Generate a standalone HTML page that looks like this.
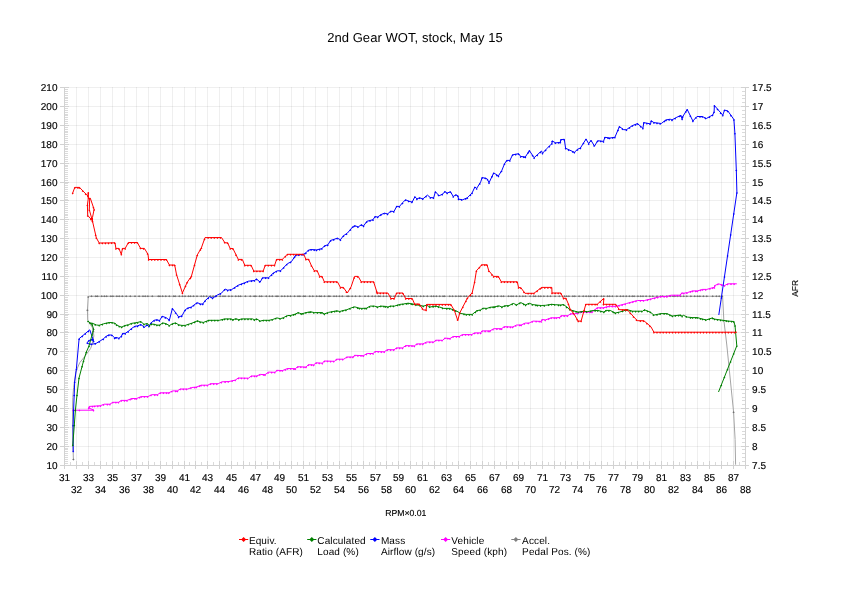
<!DOCTYPE html><html><head><meta charset="utf-8"><title>2nd Gear WOT, stock, May 15</title><style>
html,body{margin:0;padding:0;background:#fff;}
body{width:842px;height:595px;overflow:hidden;position:relative;font-family:"Liberation Sans",sans-serif;}
svg{position:absolute;left:0;top:0;will-change:transform;}
svg text{font-family:"Liberation Sans",sans-serif;fill:#000;text-rendering:geometricPrecision;}
svg text.t{stroke:#000;stroke-width:0.15px;}
</style></head><body>
<svg width="842" height="595" viewBox="0 0 842 595" shape-rendering="crispEdges">
<path d="M76.5 87V465M88.5 87V465M100.5 87V465M112.5 87V465M124.5 87V465M136.5 87V465M148.5 87V465M160.5 87V465M172.5 87V465M184.5 87V465M195.5 87V465M207.5 87V465M219.5 87V465M231.5 87V465M243.5 87V465M255.5 87V465M267.5 87V465M279.5 87V465M291.5 87V465M303.5 87V465M315.5 87V465M327.5 87V465M339.5 87V465M351.5 87V465M363.5 87V465M375.5 87V465M386.5 87V465M398.5 87V465M410.5 87V465M422.5 87V465M434.5 87V465M446.5 87V465M458.5 87V465M470.5 87V465M482.5 87V465M494.5 87V465M506.5 87V465M518.5 87V465M530.5 87V465M542.5 87V465M554.5 87V465M565.5 87V465M577.5 87V465M589.5 87V465M601.5 87V465M613.5 87V465M625.5 87V465M637.5 87V465M649.5 87V465M661.5 87V465M673.5 87V465M685.5 87V465M697.5 87V465M709.5 87V465M721.5 87V465M733.5 87V465" stroke="#000" stroke-opacity="0.064" stroke-width="1" fill="none"/>
<path d="M65 446.5H745M65 427.5H745M65 408.5H745M65 389.5H745M65 370.5H745M65 351.5H745M65 332.5H745M65 314.5H745M65 295.5H745M65 276.5H745M65 257.5H745M65 238.5H745M65 219.5H745M65 200.5H745M65 182.5H745M65 163.5H745M65 144.5H745M65 125.5H745M65 106.5H745M65 87.5H745" stroke="#000" stroke-opacity="0.064" stroke-width="1" fill="none"/>
<path d="M64.5 87V466M745.5 87V466M64 465.5H746M60 465.5H69M741 465.5H749M60 446.5H69M741 446.5H749M60 427.5H69M741 427.5H749M60 408.5H69M741 408.5H749M60 389.5H69M741 389.5H749M60 370.5H69M741 370.5H749M60 351.5H69M741 351.5H749M60 332.5H69M741 332.5H749M60 314.5H69M741 314.5H749M60 295.5H69M741 295.5H749M60 276.5H69M741 276.5H749M60 257.5H69M741 257.5H749M60 238.5H69M741 238.5H749M60 219.5H69M741 219.5H749M60 200.5H69M741 200.5H749M60 182.5H69M741 182.5H749M60 163.5H69M741 163.5H749M60 144.5H69M741 144.5H749M60 125.5H69M741 125.5H749M60 106.5H69M741 106.5H749M60 87.5H69M741 87.5H749" stroke="#d2d2d2" stroke-width="1" fill="none"/>
<path d="M65 89.5H68M65 91.5H68M65 93.5H68M65 95.5H68M65 97.5H68M65 98.5H68M65 100.5H68M65 102.5H68M65 104.5H68M65 108.5H68M65 110.5H68M65 112.5H68M65 114.5H68M65 115.5H68M65 117.5H68M65 119.5H68M65 121.5H68M65 123.5H68M65 127.5H68M65 129.5H68M65 131.5H68M65 132.5H68M65 134.5H68M65 136.5H68M65 138.5H68M65 140.5H68M65 142.5H68M65 146.5H68M65 148.5H68M65 149.5H68M65 151.5H68M65 153.5H68M65 155.5H68M65 157.5H68M65 159.5H68M65 161.5H68M65 165.5H68M65 166.5H68M65 168.5H68M65 170.5H68M65 172.5H68M65 174.5H68M65 176.5H68M65 178.5H68M65 180.5H68M65 183.5H68M65 185.5H68M65 187.5H68M65 189.5H68M65 191.5H68M65 193.5H68M65 195.5H68M65 197.5H68M65 199.5H68M65 202.5H68M65 204.5H68M65 206.5H68M65 208.5H68M65 210.5H68M65 212.5H68M65 214.5H68M65 215.5H68M65 217.5H68M65 221.5H68M65 223.5H68M65 225.5H68M65 227.5H68M65 229.5H68M65 231.5H68M65 232.5H68M65 234.5H68M65 236.5H68M65 240.5H68M65 242.5H68M65 244.5H68M65 246.5H68M65 248.5H68M65 249.5H68M65 251.5H68M65 253.5H68M65 255.5H68M65 259.5H68M65 261.5H68M65 263.5H68M65 265.5H68M65 266.5H68M65 268.5H68M65 270.5H68M65 272.5H68M65 274.5H68M65 278.5H68M65 280.5H68M65 282.5H68M65 283.5H68M65 285.5H68M65 287.5H68M65 289.5H68M65 291.5H68M65 293.5H68M65 297.5H68M65 299.5H68M65 300.5H68M65 302.5H68M65 304.5H68M65 306.5H68M65 308.5H68M65 310.5H68M65 312.5H68M65 315.5H68M65 317.5H68M65 319.5H68M65 321.5H68M65 323.5H68M65 325.5H68M65 327.5H68M65 329.5H68M65 331.5H68M65 334.5H68M65 336.5H68M65 338.5H68M65 340.5H68M65 342.5H68M65 344.5H68M65 346.5H68M65 348.5H68M65 349.5H68M65 353.5H68M65 355.5H68M65 357.5H68M65 359.5H68M65 361.5H68M65 363.5H68M65 365.5H68M65 366.5H68M65 368.5H68M65 372.5H68M65 374.5H68M65 376.5H68M65 378.5H68M65 380.5H68M65 382.5H68M65 383.5H68M65 385.5H68M65 387.5H68M65 391.5H68M65 393.5H68M65 395.5H68M65 397.5H68M65 399.5H68M65 400.5H68M65 402.5H68M65 404.5H68M65 406.5H68M65 410.5H68M65 412.5H68M65 414.5H68M65 416.5H68M65 417.5H68M65 419.5H68M65 421.5H68M65 423.5H68M65 425.5H68M65 429.5H68M65 431.5H68M65 432.5H68M65 434.5H68M65 436.5H68M65 438.5H68M65 440.5H68M65 442.5H68M65 444.5H68M65 448.5H68M65 449.5H68M65 451.5H68M65 453.5H68M65 455.5H68M65 457.5H68M65 459.5H68M65 461.5H68M65 463.5H68M742 461.5H745M742 457.5H745M742 453.5H745M742 449.5H745M742 442.5H745M742 438.5H745M742 434.5H745M742 431.5H745M742 423.5H745M742 419.5H745M742 416.5H745M742 412.5H745M742 404.5H745M742 400.5H745M742 397.5H745M742 393.5H745M742 385.5H745M742 382.5H745M742 378.5H745M742 374.5H745M742 366.5H745M742 363.5H745M742 359.5H745M742 355.5H745M742 348.5H745M742 344.5H745M742 340.5H745M742 336.5H745M742 329.5H745M742 325.5H745M742 321.5H745M742 317.5H745M742 310.5H745M742 306.5H745M742 302.5H745M742 299.5H745M742 291.5H745M742 287.5H745M742 283.5H745M742 280.5H745M742 272.5H745M742 268.5H745M742 265.5H745M742 261.5H745M742 253.5H745M742 249.5H745M742 246.5H745M742 242.5H745M742 234.5H745M742 231.5H745M742 227.5H745M742 223.5H745M742 215.5H745M742 212.5H745M742 208.5H745M742 204.5H745M742 197.5H745M742 193.5H745M742 189.5H745M742 185.5H745M742 178.5H745M742 174.5H745M742 170.5H745M742 166.5H745M742 159.5H745M742 155.5H745M742 151.5H745M742 148.5H745M742 140.5H745M742 136.5H745M742 132.5H745M742 129.5H745M742 121.5H745M742 117.5H745M742 114.5H745M742 110.5H745M742 102.5H745M742 98.5H745M742 95.5H745M742 91.5H745" stroke="#dadada" stroke-width="1" fill="none"/>
<path d="M64.5 461V469M76.5 461V469M88.5 461V469M100.5 461V469M112.5 461V469M124.5 461V469M136.5 461V469M148.5 461V469M160.5 461V469M172.5 461V469M184.5 461V469M195.5 461V469M207.5 461V469M219.5 461V469M231.5 461V469M243.5 461V469M255.5 461V469M267.5 461V469M279.5 461V469M291.5 461V469M303.5 461V469M315.5 461V469M327.5 461V469M339.5 461V469M351.5 461V469M363.5 461V469M375.5 461V469M386.5 461V469M398.5 461V469M410.5 461V469M422.5 461V469M434.5 461V469M446.5 461V469M458.5 461V469M470.5 461V469M482.5 461V469M494.5 461V469M506.5 461V469M518.5 461V469M530.5 461V469M542.5 461V469M554.5 461V469M565.5 461V469M577.5 461V469M589.5 461V469M601.5 461V469M613.5 461V469M625.5 461V469M637.5 461V469M649.5 461V469M661.5 461V469M673.5 461V469M685.5 461V469M697.5 461V469M709.5 461V469M721.5 461V469M733.5 461V469M745.5 461V469" stroke="#d2d2d2" stroke-width="1" fill="none"/>
<path d="M70.5 462V465M82.5 462V465M94.5 462V465M106.5 462V465M118.5 462V465M130.5 462V465M142.5 462V465M154.5 462V465M166.5 462V465M178.5 462V465M189.5 462V465M201.5 462V465M213.5 462V465M225.5 462V465M237.5 462V465M249.5 462V465M261.5 462V465M273.5 462V465M285.5 462V465M297.5 462V465M309.5 462V465M321.5 462V465M333.5 462V465M345.5 462V465M357.5 462V465M369.5 462V465M380.5 462V465M392.5 462V465M404.5 462V465M416.5 462V465M428.5 462V465M440.5 462V465M452.5 462V465M464.5 462V465M476.5 462V465M488.5 462V465M500.5 462V465M512.5 462V465M524.5 462V465M536.5 462V465M548.5 462V465M560.5 462V465M571.5 462V465M583.5 462V465M595.5 462V465M607.5 462V465M619.5 462V465M631.5 462V465M643.5 462V465M655.5 462V465M667.5 462V465M679.5 462V465M691.5 462V465M703.5 462V465M715.5 462V465M727.5 462V465M739.5 462V465" stroke="#dadada" stroke-width="1" fill="none"/>
</svg>
<svg width="842" height="595" viewBox="0 0 842 595">
<polyline points="73.4,459.4 72.8,440.4 72.5,410.2 72.8,397.4 73.6,387.6 75.8,372.0 79.7,362.7 84.6,356.7 90.6,348.5 92.2,344.1 93.9,335.9 93.3,331.6 92.2,327.2 90.2,324.3 87.7,320.2 87.4,310.2 88.2,297.1 89.2,296.3 722.6,296.3 723.8,319.7 726.8,345.0 733.6,412.2 735.1,439.5 735.6,464.7" fill="none" stroke="#a4a4a4" stroke-width="1.0" stroke-linejoin="round"/>
<path d="M88.2 296.1l1.2 1.0l-1.2 1.0l-1.2 -1.0zM87.4 309.2l1.2 1.0l-1.2 1.0l-1.2 -1.0zM93.3 330.6l1.2 1.0l-1.2 1.0l-1.2 -1.0zM73.4 458.4l1.2 1.0l-1.2 1.0l-1.2 -1.0zM733.6 411.2l1.2 1.0l-1.2 1.0l-1.2 -1.0zM91.5 295.3l1.2 1.0l-1.2 1.0l-1.2 -1.0zM95.8 295.3l1.2 1.0l-1.2 1.0l-1.2 -1.0zM97.5 295.3l1.2 1.0l-1.2 1.0l-1.2 -1.0zM101.7 295.3l1.2 1.0l-1.2 1.0l-1.2 -1.0zM104.4 295.3l1.2 1.0l-1.2 1.0l-1.2 -1.0zM106.7 295.3l1.2 1.0l-1.2 1.0l-1.2 -1.0zM110.9 295.3l1.2 1.0l-1.2 1.0l-1.2 -1.0zM112.9 295.3l1.2 1.0l-1.2 1.0l-1.2 -1.0zM116.9 295.3l1.2 1.0l-1.2 1.0l-1.2 -1.0zM119.2 295.3l1.2 1.0l-1.2 1.0l-1.2 -1.0zM122.3 295.3l1.2 1.0l-1.2 1.0l-1.2 -1.0zM126.2 295.3l1.2 1.0l-1.2 1.0l-1.2 -1.0zM130.3 295.3l1.2 1.0l-1.2 1.0l-1.2 -1.0zM135.0 295.3l1.2 1.0l-1.2 1.0l-1.2 -1.0zM139.1 295.3l1.2 1.0l-1.2 1.0l-1.2 -1.0zM143.0 295.3l1.2 1.0l-1.2 1.0l-1.2 -1.0zM145.2 295.3l1.2 1.0l-1.2 1.0l-1.2 -1.0zM147.9 295.3l1.2 1.0l-1.2 1.0l-1.2 -1.0zM152.3 295.3l1.2 1.0l-1.2 1.0l-1.2 -1.0zM158.3 295.3l1.2 1.0l-1.2 1.0l-1.2 -1.0zM160.0 295.3l1.2 1.0l-1.2 1.0l-1.2 -1.0zM162.7 295.3l1.2 1.0l-1.2 1.0l-1.2 -1.0zM165.8 295.3l1.2 1.0l-1.2 1.0l-1.2 -1.0zM169.3 295.3l1.2 1.0l-1.2 1.0l-1.2 -1.0zM173.7 295.3l1.2 1.0l-1.2 1.0l-1.2 -1.0zM175.2 295.3l1.2 1.0l-1.2 1.0l-1.2 -1.0zM179.3 295.3l1.2 1.0l-1.2 1.0l-1.2 -1.0zM182.5 295.3l1.2 1.0l-1.2 1.0l-1.2 -1.0zM185.0 295.3l1.2 1.0l-1.2 1.0l-1.2 -1.0zM188.5 295.3l1.2 1.0l-1.2 1.0l-1.2 -1.0zM190.5 295.3l1.2 1.0l-1.2 1.0l-1.2 -1.0zM193.5 295.3l1.2 1.0l-1.2 1.0l-1.2 -1.0zM197.0 295.3l1.2 1.0l-1.2 1.0l-1.2 -1.0zM201.2 295.3l1.2 1.0l-1.2 1.0l-1.2 -1.0zM203.7 295.3l1.2 1.0l-1.2 1.0l-1.2 -1.0zM206.6 295.3l1.2 1.0l-1.2 1.0l-1.2 -1.0zM210.3 295.3l1.2 1.0l-1.2 1.0l-1.2 -1.0zM213.1 295.3l1.2 1.0l-1.2 1.0l-1.2 -1.0zM215.8 295.3l1.2 1.0l-1.2 1.0l-1.2 -1.0zM220.1 295.3l1.2 1.0l-1.2 1.0l-1.2 -1.0zM223.0 295.3l1.2 1.0l-1.2 1.0l-1.2 -1.0zM225.0 295.3l1.2 1.0l-1.2 1.0l-1.2 -1.0zM228.9 295.3l1.2 1.0l-1.2 1.0l-1.2 -1.0zM231.9 295.3l1.2 1.0l-1.2 1.0l-1.2 -1.0zM235.8 295.3l1.2 1.0l-1.2 1.0l-1.2 -1.0zM238.6 295.3l1.2 1.0l-1.2 1.0l-1.2 -1.0zM240.6 295.3l1.2 1.0l-1.2 1.0l-1.2 -1.0zM245.4 295.3l1.2 1.0l-1.2 1.0l-1.2 -1.0zM250.2 295.3l1.2 1.0l-1.2 1.0l-1.2 -1.0zM254.1 295.3l1.2 1.0l-1.2 1.0l-1.2 -1.0zM255.8 295.3l1.2 1.0l-1.2 1.0l-1.2 -1.0zM259.7 295.3l1.2 1.0l-1.2 1.0l-1.2 -1.0zM261.7 295.3l1.2 1.0l-1.2 1.0l-1.2 -1.0zM266.3 295.3l1.2 1.0l-1.2 1.0l-1.2 -1.0zM269.6 295.3l1.2 1.0l-1.2 1.0l-1.2 -1.0zM272.3 295.3l1.2 1.0l-1.2 1.0l-1.2 -1.0zM276.1 295.3l1.2 1.0l-1.2 1.0l-1.2 -1.0zM277.9 295.3l1.2 1.0l-1.2 1.0l-1.2 -1.0zM281.9 295.3l1.2 1.0l-1.2 1.0l-1.2 -1.0zM284.7 295.3l1.2 1.0l-1.2 1.0l-1.2 -1.0zM287.8 295.3l1.2 1.0l-1.2 1.0l-1.2 -1.0zM290.6 295.3l1.2 1.0l-1.2 1.0l-1.2 -1.0zM294.6 295.3l1.2 1.0l-1.2 1.0l-1.2 -1.0zM298.0 295.3l1.2 1.0l-1.2 1.0l-1.2 -1.0zM299.9 295.3l1.2 1.0l-1.2 1.0l-1.2 -1.0zM303.5 295.3l1.2 1.0l-1.2 1.0l-1.2 -1.0zM305.1 295.3l1.2 1.0l-1.2 1.0l-1.2 -1.0zM309.8 295.3l1.2 1.0l-1.2 1.0l-1.2 -1.0zM312.8 295.3l1.2 1.0l-1.2 1.0l-1.2 -1.0zM316.7 295.3l1.2 1.0l-1.2 1.0l-1.2 -1.0zM319.4 295.3l1.2 1.0l-1.2 1.0l-1.2 -1.0zM321.2 295.3l1.2 1.0l-1.2 1.0l-1.2 -1.0zM324.5 295.3l1.2 1.0l-1.2 1.0l-1.2 -1.0zM328.3 295.3l1.2 1.0l-1.2 1.0l-1.2 -1.0zM329.9 295.3l1.2 1.0l-1.2 1.0l-1.2 -1.0zM334.0 295.3l1.2 1.0l-1.2 1.0l-1.2 -1.0zM336.4 295.3l1.2 1.0l-1.2 1.0l-1.2 -1.0zM339.4 295.3l1.2 1.0l-1.2 1.0l-1.2 -1.0zM342.3 295.3l1.2 1.0l-1.2 1.0l-1.2 -1.0zM347.1 295.3l1.2 1.0l-1.2 1.0l-1.2 -1.0zM348.7 295.3l1.2 1.0l-1.2 1.0l-1.2 -1.0zM352.1 295.3l1.2 1.0l-1.2 1.0l-1.2 -1.0zM355.5 295.3l1.2 1.0l-1.2 1.0l-1.2 -1.0zM359.8 295.3l1.2 1.0l-1.2 1.0l-1.2 -1.0zM365.0 295.3l1.2 1.0l-1.2 1.0l-1.2 -1.0zM368.3 295.3l1.2 1.0l-1.2 1.0l-1.2 -1.0zM372.2 295.3l1.2 1.0l-1.2 1.0l-1.2 -1.0zM375.2 295.3l1.2 1.0l-1.2 1.0l-1.2 -1.0zM378.4 295.3l1.2 1.0l-1.2 1.0l-1.2 -1.0zM380.1 295.3l1.2 1.0l-1.2 1.0l-1.2 -1.0zM383.5 295.3l1.2 1.0l-1.2 1.0l-1.2 -1.0zM386.5 295.3l1.2 1.0l-1.2 1.0l-1.2 -1.0zM390.8 295.3l1.2 1.0l-1.2 1.0l-1.2 -1.0zM394.1 295.3l1.2 1.0l-1.2 1.0l-1.2 -1.0zM398.4 295.3l1.2 1.0l-1.2 1.0l-1.2 -1.0zM401.7 295.3l1.2 1.0l-1.2 1.0l-1.2 -1.0zM404.8 295.3l1.2 1.0l-1.2 1.0l-1.2 -1.0zM408.5 295.3l1.2 1.0l-1.2 1.0l-1.2 -1.0zM411.8 295.3l1.2 1.0l-1.2 1.0l-1.2 -1.0zM414.1 295.3l1.2 1.0l-1.2 1.0l-1.2 -1.0zM416.6 295.3l1.2 1.0l-1.2 1.0l-1.2 -1.0zM420.7 295.3l1.2 1.0l-1.2 1.0l-1.2 -1.0zM423.7 295.3l1.2 1.0l-1.2 1.0l-1.2 -1.0zM427.3 295.3l1.2 1.0l-1.2 1.0l-1.2 -1.0zM431.3 295.3l1.2 1.0l-1.2 1.0l-1.2 -1.0zM433.8 295.3l1.2 1.0l-1.2 1.0l-1.2 -1.0zM436.4 295.3l1.2 1.0l-1.2 1.0l-1.2 -1.0zM439.8 295.3l1.2 1.0l-1.2 1.0l-1.2 -1.0zM443.0 295.3l1.2 1.0l-1.2 1.0l-1.2 -1.0zM444.6 295.3l1.2 1.0l-1.2 1.0l-1.2 -1.0zM449.8 295.3l1.2 1.0l-1.2 1.0l-1.2 -1.0zM452.6 295.3l1.2 1.0l-1.2 1.0l-1.2 -1.0zM455.9 295.3l1.2 1.0l-1.2 1.0l-1.2 -1.0zM458.8 295.3l1.2 1.0l-1.2 1.0l-1.2 -1.0zM460.9 295.3l1.2 1.0l-1.2 1.0l-1.2 -1.0zM464.1 295.3l1.2 1.0l-1.2 1.0l-1.2 -1.0zM466.4 295.3l1.2 1.0l-1.2 1.0l-1.2 -1.0zM470.8 295.3l1.2 1.0l-1.2 1.0l-1.2 -1.0zM472.5 295.3l1.2 1.0l-1.2 1.0l-1.2 -1.0zM475.7 295.3l1.2 1.0l-1.2 1.0l-1.2 -1.0zM479.1 295.3l1.2 1.0l-1.2 1.0l-1.2 -1.0zM482.1 295.3l1.2 1.0l-1.2 1.0l-1.2 -1.0zM485.6 295.3l1.2 1.0l-1.2 1.0l-1.2 -1.0zM488.0 295.3l1.2 1.0l-1.2 1.0l-1.2 -1.0zM491.0 295.3l1.2 1.0l-1.2 1.0l-1.2 -1.0zM494.5 295.3l1.2 1.0l-1.2 1.0l-1.2 -1.0zM497.4 295.3l1.2 1.0l-1.2 1.0l-1.2 -1.0zM501.2 295.3l1.2 1.0l-1.2 1.0l-1.2 -1.0zM503.5 295.3l1.2 1.0l-1.2 1.0l-1.2 -1.0zM508.6 295.3l1.2 1.0l-1.2 1.0l-1.2 -1.0zM511.1 295.3l1.2 1.0l-1.2 1.0l-1.2 -1.0zM513.1 295.3l1.2 1.0l-1.2 1.0l-1.2 -1.0zM516.4 295.3l1.2 1.0l-1.2 1.0l-1.2 -1.0zM519.7 295.3l1.2 1.0l-1.2 1.0l-1.2 -1.0zM522.9 295.3l1.2 1.0l-1.2 1.0l-1.2 -1.0zM525.4 295.3l1.2 1.0l-1.2 1.0l-1.2 -1.0zM530.2 295.3l1.2 1.0l-1.2 1.0l-1.2 -1.0zM533.7 295.3l1.2 1.0l-1.2 1.0l-1.2 -1.0zM535.5 295.3l1.2 1.0l-1.2 1.0l-1.2 -1.0zM538.7 295.3l1.2 1.0l-1.2 1.0l-1.2 -1.0zM540.8 295.3l1.2 1.0l-1.2 1.0l-1.2 -1.0zM543.9 295.3l1.2 1.0l-1.2 1.0l-1.2 -1.0zM547.6 295.3l1.2 1.0l-1.2 1.0l-1.2 -1.0zM550.5 295.3l1.2 1.0l-1.2 1.0l-1.2 -1.0zM555.0 295.3l1.2 1.0l-1.2 1.0l-1.2 -1.0zM559.3 295.3l1.2 1.0l-1.2 1.0l-1.2 -1.0zM564.6 295.3l1.2 1.0l-1.2 1.0l-1.2 -1.0zM566.7 295.3l1.2 1.0l-1.2 1.0l-1.2 -1.0zM568.9 295.3l1.2 1.0l-1.2 1.0l-1.2 -1.0zM572.9 295.3l1.2 1.0l-1.2 1.0l-1.2 -1.0zM574.8 295.3l1.2 1.0l-1.2 1.0l-1.2 -1.0zM579.1 295.3l1.2 1.0l-1.2 1.0l-1.2 -1.0zM583.2 295.3l1.2 1.0l-1.2 1.0l-1.2 -1.0zM586.1 295.3l1.2 1.0l-1.2 1.0l-1.2 -1.0zM588.8 295.3l1.2 1.0l-1.2 1.0l-1.2 -1.0zM590.8 295.3l1.2 1.0l-1.2 1.0l-1.2 -1.0zM594.2 295.3l1.2 1.0l-1.2 1.0l-1.2 -1.0zM596.8 295.3l1.2 1.0l-1.2 1.0l-1.2 -1.0zM601.4 295.3l1.2 1.0l-1.2 1.0l-1.2 -1.0zM603.9 295.3l1.2 1.0l-1.2 1.0l-1.2 -1.0zM607.6 295.3l1.2 1.0l-1.2 1.0l-1.2 -1.0zM609.6 295.3l1.2 1.0l-1.2 1.0l-1.2 -1.0zM612.4 295.3l1.2 1.0l-1.2 1.0l-1.2 -1.0zM616.9 295.3l1.2 1.0l-1.2 1.0l-1.2 -1.0zM620.5 295.3l1.2 1.0l-1.2 1.0l-1.2 -1.0zM623.2 295.3l1.2 1.0l-1.2 1.0l-1.2 -1.0zM626.2 295.3l1.2 1.0l-1.2 1.0l-1.2 -1.0zM629.4 295.3l1.2 1.0l-1.2 1.0l-1.2 -1.0zM632.3 295.3l1.2 1.0l-1.2 1.0l-1.2 -1.0zM634.1 295.3l1.2 1.0l-1.2 1.0l-1.2 -1.0zM637.9 295.3l1.2 1.0l-1.2 1.0l-1.2 -1.0zM640.7 295.3l1.2 1.0l-1.2 1.0l-1.2 -1.0zM643.0 295.3l1.2 1.0l-1.2 1.0l-1.2 -1.0zM646.1 295.3l1.2 1.0l-1.2 1.0l-1.2 -1.0zM649.8 295.3l1.2 1.0l-1.2 1.0l-1.2 -1.0zM652.8 295.3l1.2 1.0l-1.2 1.0l-1.2 -1.0zM657.0 295.3l1.2 1.0l-1.2 1.0l-1.2 -1.0zM660.7 295.3l1.2 1.0l-1.2 1.0l-1.2 -1.0zM662.6 295.3l1.2 1.0l-1.2 1.0l-1.2 -1.0zM666.8 295.3l1.2 1.0l-1.2 1.0l-1.2 -1.0zM670.1 295.3l1.2 1.0l-1.2 1.0l-1.2 -1.0zM673.1 295.3l1.2 1.0l-1.2 1.0l-1.2 -1.0zM674.8 295.3l1.2 1.0l-1.2 1.0l-1.2 -1.0zM677.5 295.3l1.2 1.0l-1.2 1.0l-1.2 -1.0zM680.6 295.3l1.2 1.0l-1.2 1.0l-1.2 -1.0zM683.7 295.3l1.2 1.0l-1.2 1.0l-1.2 -1.0zM686.8 295.3l1.2 1.0l-1.2 1.0l-1.2 -1.0zM690.9 295.3l1.2 1.0l-1.2 1.0l-1.2 -1.0zM694.7 295.3l1.2 1.0l-1.2 1.0l-1.2 -1.0zM697.6 295.3l1.2 1.0l-1.2 1.0l-1.2 -1.0zM699.9 295.3l1.2 1.0l-1.2 1.0l-1.2 -1.0zM703.4 295.3l1.2 1.0l-1.2 1.0l-1.2 -1.0zM706.8 295.3l1.2 1.0l-1.2 1.0l-1.2 -1.0zM712.7 295.3l1.2 1.0l-1.2 1.0l-1.2 -1.0zM716.4 295.3l1.2 1.0l-1.2 1.0l-1.2 -1.0zM719.2 295.3l1.2 1.0l-1.2 1.0l-1.2 -1.0zM722.2 295.3l1.2 1.0l-1.2 1.0l-1.2 -1.0z" fill="#707070"/>
<polyline points="72.6,410.2 94.0,410.2 88.7,407.9 89.4,406.4 94.7,406.1 100.4,405.7 104.2,404.2 109.9,404.2 112.8,402.3 118.5,402.3 121.3,400.4 127.0,400.4 131.8,398.5 136.5,398.5 141.3,396.6 147.9,396.6 151.7,394.7 157.4,394.7 160.3,392.8 168.8,392.8 172.6,390.9 177.4,390.9 180.2,389.0 187.8,389.0 191.6,387.5 196.4,387.1 201.1,385.2 207.8,385.2 210.6,383.7 218.2,383.7 222.0,381.8 229.0,381.5 235.3,380.1 238.3,378.0 248.4,378.2 251.4,376.0 256.7,376.0 260.3,374.4 265.0,374.7 268.6,372.1 275.1,372.3 276.9,370.3 282.3,370.6 287.6,368.5 295.3,368.7 297.7,366.7 306.0,367.1 308.4,364.7 313.7,364.9 316.1,362.8 322.4,363.2 324.4,361.0 334.6,361.3 336.5,359.2 343.7,359.2 347.0,357.0 352.9,357.0 354.8,355.3 363.3,355.7 367.2,353.5 373.1,353.5 375.1,351.5 384.2,351.8 387.5,349.6 394.0,349.8 396.6,347.9 402.5,347.9 405.8,345.6 414.3,345.9 416.9,343.9 422.8,343.9 426.7,342.0 433.9,342.0 435.8,340.2 442.8,340.3 444.8,338.1 450.0,338.5 453.3,336.5 459.2,336.5 462.4,334.6 471.6,334.6 474.8,332.9 480.7,332.9 482.0,330.9 489.9,330.9 493.8,328.7 501.6,328.7 504.2,326.7 512.7,327.0 516.6,325.0 521.2,325.0 525.1,323.1 529.1,323.1 533.0,321.1 541.2,321.4 542.1,319.5 545.5,319.9 551.2,317.8 556.4,317.8 560.2,317.3 561.1,315.7 567.8,315.7 570.6,313.8 574.4,313.8 578.7,313.1 580.6,312.1 592.0,312.1 597.2,307.8 603.4,307.8 609.1,306.2 615.9,306.3 626.6,303.5 637.3,300.5 644.4,300.5 651.5,298.8 661.0,296.4 666.9,296.4 671.1,295.2 680.0,295.2 681.8,292.9 683.8,293.2 687.4,292.6 692.6,290.9 697.4,290.9 702.6,289.4 706.8,289.4 712.6,287.7 714.4,287.4 714.8,285.6 718.5,283.8 724.4,285.6 727.9,283.8 736.8,283.8" fill="none" stroke="#ff00ff" stroke-width="1.0" stroke-linejoin="round"/>
<path d="M73.2 409.7l1.0 1.0l-1.0 1.0l-1.0 -1.0zM79.4 409.5l1.0 1.0l-1.0 1.0l-1.0 -1.0zM93.5 409.8l1.0 1.0l-1.0 1.0l-1.0 -1.0zM88.7 407.4l1.0 1.0l-1.0 1.0l-1.0 -1.0zM89.4 405.9l1.0 1.0l-1.0 1.0l-1.0 -1.0zM92.5 405.7l1.0 1.0l-1.0 1.0l-1.0 -1.0zM94.7 405.6l1.0 1.0l-1.0 1.0l-1.0 -1.0zM97.8 405.4l1.0 1.0l-1.0 1.0l-1.0 -1.0zM100.4 405.2l1.0 1.0l-1.0 1.0l-1.0 -1.0zM103.5 404.0l1.0 1.0l-1.0 1.0l-1.0 -1.0zM107.3 403.7l1.0 1.0l-1.0 1.0l-1.0 -1.0zM109.9 403.7l1.0 1.0l-1.0 1.0l-1.0 -1.0zM112.8 401.8l1.0 1.0l-1.0 1.0l-1.0 -1.0zM115.9 401.8l1.0 1.0l-1.0 1.0l-1.0 -1.0zM118.5 401.8l1.0 1.0l-1.0 1.0l-1.0 -1.0zM121.3 399.9l1.0 1.0l-1.0 1.0l-1.0 -1.0zM124.4 399.9l1.0 1.0l-1.0 1.0l-1.0 -1.0zM127.0 399.9l1.0 1.0l-1.0 1.0l-1.0 -1.0zM130.1 398.7l1.0 1.0l-1.0 1.0l-1.0 -1.0zM131.8 398.0l1.0 1.0l-1.0 1.0l-1.0 -1.0zM134.9 398.0l1.0 1.0l-1.0 1.0l-1.0 -1.0zM136.5 398.0l1.0 1.0l-1.0 1.0l-1.0 -1.0zM139.6 396.8l1.0 1.0l-1.0 1.0l-1.0 -1.0zM141.3 396.1l1.0 1.0l-1.0 1.0l-1.0 -1.0zM144.4 396.1l1.0 1.0l-1.0 1.0l-1.0 -1.0zM147.5 396.1l1.0 1.0l-1.0 1.0l-1.0 -1.0zM151.0 394.6l1.0 1.0l-1.0 1.0l-1.0 -1.0zM154.8 394.2l1.0 1.0l-1.0 1.0l-1.0 -1.0zM157.4 394.2l1.0 1.0l-1.0 1.0l-1.0 -1.0zM160.3 392.3l1.0 1.0l-1.0 1.0l-1.0 -1.0zM163.4 392.3l1.0 1.0l-1.0 1.0l-1.0 -1.0zM166.5 392.3l1.0 1.0l-1.0 1.0l-1.0 -1.0zM168.8 392.3l1.0 1.0l-1.0 1.0l-1.0 -1.0zM171.9 390.8l1.0 1.0l-1.0 1.0l-1.0 -1.0zM175.7 390.4l1.0 1.0l-1.0 1.0l-1.0 -1.0zM177.4 390.4l1.0 1.0l-1.0 1.0l-1.0 -1.0zM180.2 388.5l1.0 1.0l-1.0 1.0l-1.0 -1.0zM183.3 388.5l1.0 1.0l-1.0 1.0l-1.0 -1.0zM186.4 388.5l1.0 1.0l-1.0 1.0l-1.0 -1.0zM190.9 387.3l1.0 1.0l-1.0 1.0l-1.0 -1.0zM194.7 386.7l1.0 1.0l-1.0 1.0l-1.0 -1.0zM196.4 386.6l1.0 1.0l-1.0 1.0l-1.0 -1.0zM199.5 385.3l1.0 1.0l-1.0 1.0l-1.0 -1.0zM201.1 384.7l1.0 1.0l-1.0 1.0l-1.0 -1.0zM204.2 384.7l1.0 1.0l-1.0 1.0l-1.0 -1.0zM207.3 384.7l1.0 1.0l-1.0 1.0l-1.0 -1.0zM210.6 383.2l1.0 1.0l-1.0 1.0l-1.0 -1.0zM213.7 383.2l1.0 1.0l-1.0 1.0l-1.0 -1.0zM216.8 383.2l1.0 1.0l-1.0 1.0l-1.0 -1.0zM221.3 381.7l1.0 1.0l-1.0 1.0l-1.0 -1.0zM225.1 381.2l1.0 1.0l-1.0 1.0l-1.0 -1.0zM228.2 381.0l1.0 1.0l-1.0 1.0l-1.0 -1.0zM232.1 380.3l1.0 1.0l-1.0 1.0l-1.0 -1.0zM235.2 379.6l1.0 1.0l-1.0 1.0l-1.0 -1.0zM238.3 377.5l1.0 1.0l-1.0 1.0l-1.0 -1.0zM241.4 377.6l1.0 1.0l-1.0 1.0l-1.0 -1.0zM244.5 377.6l1.0 1.0l-1.0 1.0l-1.0 -1.0zM247.6 377.7l1.0 1.0l-1.0 1.0l-1.0 -1.0zM251.4 375.5l1.0 1.0l-1.0 1.0l-1.0 -1.0zM254.5 375.5l1.0 1.0l-1.0 1.0l-1.0 -1.0zM256.7 375.5l1.0 1.0l-1.0 1.0l-1.0 -1.0zM259.8 374.1l1.0 1.0l-1.0 1.0l-1.0 -1.0zM263.4 374.1l1.0 1.0l-1.0 1.0l-1.0 -1.0zM265.0 374.2l1.0 1.0l-1.0 1.0l-1.0 -1.0zM268.1 372.0l1.0 1.0l-1.0 1.0l-1.0 -1.0zM271.7 371.7l1.0 1.0l-1.0 1.0l-1.0 -1.0zM274.8 371.8l1.0 1.0l-1.0 1.0l-1.0 -1.0zM276.9 369.8l1.0 1.0l-1.0 1.0l-1.0 -1.0zM280.0 370.0l1.0 1.0l-1.0 1.0l-1.0 -1.0zM282.3 370.1l1.0 1.0l-1.0 1.0l-1.0 -1.0zM285.4 368.9l1.0 1.0l-1.0 1.0l-1.0 -1.0zM287.6 368.0l1.0 1.0l-1.0 1.0l-1.0 -1.0zM290.7 368.1l1.0 1.0l-1.0 1.0l-1.0 -1.0zM293.8 368.2l1.0 1.0l-1.0 1.0l-1.0 -1.0zM295.3 368.2l1.0 1.0l-1.0 1.0l-1.0 -1.0zM297.7 366.2l1.0 1.0l-1.0 1.0l-1.0 -1.0zM300.8 366.3l1.0 1.0l-1.0 1.0l-1.0 -1.0zM303.9 366.5l1.0 1.0l-1.0 1.0l-1.0 -1.0zM306.0 366.6l1.0 1.0l-1.0 1.0l-1.0 -1.0zM308.4 364.2l1.0 1.0l-1.0 1.0l-1.0 -1.0zM311.5 364.3l1.0 1.0l-1.0 1.0l-1.0 -1.0zM313.7 364.4l1.0 1.0l-1.0 1.0l-1.0 -1.0zM316.1 362.3l1.0 1.0l-1.0 1.0l-1.0 -1.0zM319.2 362.5l1.0 1.0l-1.0 1.0l-1.0 -1.0zM322.3 362.7l1.0 1.0l-1.0 1.0l-1.0 -1.0zM324.4 360.5l1.0 1.0l-1.0 1.0l-1.0 -1.0zM327.5 360.6l1.0 1.0l-1.0 1.0l-1.0 -1.0zM330.6 360.7l1.0 1.0l-1.0 1.0l-1.0 -1.0zM333.7 360.8l1.0 1.0l-1.0 1.0l-1.0 -1.0zM336.5 358.7l1.0 1.0l-1.0 1.0l-1.0 -1.0zM339.6 358.7l1.0 1.0l-1.0 1.0l-1.0 -1.0zM342.7 358.7l1.0 1.0l-1.0 1.0l-1.0 -1.0zM346.8 356.6l1.0 1.0l-1.0 1.0l-1.0 -1.0zM350.1 356.5l1.0 1.0l-1.0 1.0l-1.0 -1.0zM352.9 356.5l1.0 1.0l-1.0 1.0l-1.0 -1.0zM354.8 354.8l1.0 1.0l-1.0 1.0l-1.0 -1.0zM357.9 354.9l1.0 1.0l-1.0 1.0l-1.0 -1.0zM361.0 355.1l1.0 1.0l-1.0 1.0l-1.0 -1.0zM363.3 355.2l1.0 1.0l-1.0 1.0l-1.0 -1.0zM366.4 353.5l1.0 1.0l-1.0 1.0l-1.0 -1.0zM370.3 353.0l1.0 1.0l-1.0 1.0l-1.0 -1.0zM373.1 353.0l1.0 1.0l-1.0 1.0l-1.0 -1.0zM375.1 351.0l1.0 1.0l-1.0 1.0l-1.0 -1.0zM378.2 351.1l1.0 1.0l-1.0 1.0l-1.0 -1.0zM381.3 351.2l1.0 1.0l-1.0 1.0l-1.0 -1.0zM384.2 351.3l1.0 1.0l-1.0 1.0l-1.0 -1.0zM387.3 349.2l1.0 1.0l-1.0 1.0l-1.0 -1.0zM390.6 349.2l1.0 1.0l-1.0 1.0l-1.0 -1.0zM393.7 349.3l1.0 1.0l-1.0 1.0l-1.0 -1.0zM396.6 347.4l1.0 1.0l-1.0 1.0l-1.0 -1.0zM399.7 347.4l1.0 1.0l-1.0 1.0l-1.0 -1.0zM402.5 347.4l1.0 1.0l-1.0 1.0l-1.0 -1.0zM405.6 345.2l1.0 1.0l-1.0 1.0l-1.0 -1.0zM408.9 345.2l1.0 1.0l-1.0 1.0l-1.0 -1.0zM412.0 345.3l1.0 1.0l-1.0 1.0l-1.0 -1.0zM414.3 345.4l1.0 1.0l-1.0 1.0l-1.0 -1.0zM416.9 343.4l1.0 1.0l-1.0 1.0l-1.0 -1.0zM420.0 343.4l1.0 1.0l-1.0 1.0l-1.0 -1.0zM422.8 343.4l1.0 1.0l-1.0 1.0l-1.0 -1.0zM425.9 341.9l1.0 1.0l-1.0 1.0l-1.0 -1.0zM429.8 341.5l1.0 1.0l-1.0 1.0l-1.0 -1.0zM432.9 341.5l1.0 1.0l-1.0 1.0l-1.0 -1.0zM435.8 339.7l1.0 1.0l-1.0 1.0l-1.0 -1.0zM438.9 339.7l1.0 1.0l-1.0 1.0l-1.0 -1.0zM442.0 339.8l1.0 1.0l-1.0 1.0l-1.0 -1.0zM444.8 337.6l1.0 1.0l-1.0 1.0l-1.0 -1.0zM447.9 337.8l1.0 1.0l-1.0 1.0l-1.0 -1.0zM450.0 338.0l1.0 1.0l-1.0 1.0l-1.0 -1.0zM453.1 336.1l1.0 1.0l-1.0 1.0l-1.0 -1.0zM456.4 336.0l1.0 1.0l-1.0 1.0l-1.0 -1.0zM459.2 336.0l1.0 1.0l-1.0 1.0l-1.0 -1.0zM462.3 334.2l1.0 1.0l-1.0 1.0l-1.0 -1.0zM465.5 334.1l1.0 1.0l-1.0 1.0l-1.0 -1.0zM468.6 334.1l1.0 1.0l-1.0 1.0l-1.0 -1.0zM471.6 334.1l1.0 1.0l-1.0 1.0l-1.0 -1.0zM474.7 332.5l1.0 1.0l-1.0 1.0l-1.0 -1.0zM477.9 332.4l1.0 1.0l-1.0 1.0l-1.0 -1.0zM480.7 332.4l1.0 1.0l-1.0 1.0l-1.0 -1.0zM482.0 330.4l1.0 1.0l-1.0 1.0l-1.0 -1.0zM485.1 330.4l1.0 1.0l-1.0 1.0l-1.0 -1.0zM488.2 330.4l1.0 1.0l-1.0 1.0l-1.0 -1.0zM489.9 330.4l1.0 1.0l-1.0 1.0l-1.0 -1.0zM493.0 328.7l1.0 1.0l-1.0 1.0l-1.0 -1.0zM496.9 328.2l1.0 1.0l-1.0 1.0l-1.0 -1.0zM500.0 328.2l1.0 1.0l-1.0 1.0l-1.0 -1.0zM501.6 328.2l1.0 1.0l-1.0 1.0l-1.0 -1.0zM504.2 326.2l1.0 1.0l-1.0 1.0l-1.0 -1.0zM507.3 326.3l1.0 1.0l-1.0 1.0l-1.0 -1.0zM510.4 326.4l1.0 1.0l-1.0 1.0l-1.0 -1.0zM512.7 326.5l1.0 1.0l-1.0 1.0l-1.0 -1.0zM515.8 324.9l1.0 1.0l-1.0 1.0l-1.0 -1.0zM519.7 324.5l1.0 1.0l-1.0 1.0l-1.0 -1.0zM521.2 324.5l1.0 1.0l-1.0 1.0l-1.0 -1.0zM524.3 323.0l1.0 1.0l-1.0 1.0l-1.0 -1.0zM528.2 322.6l1.0 1.0l-1.0 1.0l-1.0 -1.0zM532.2 321.0l1.0 1.0l-1.0 1.0l-1.0 -1.0zM536.1 320.7l1.0 1.0l-1.0 1.0l-1.0 -1.0zM539.2 320.8l1.0 1.0l-1.0 1.0l-1.0 -1.0zM541.2 320.9l1.0 1.0l-1.0 1.0l-1.0 -1.0zM542.1 319.0l1.0 1.0l-1.0 1.0l-1.0 -1.0zM545.2 319.4l1.0 1.0l-1.0 1.0l-1.0 -1.0zM548.6 318.3l1.0 1.0l-1.0 1.0l-1.0 -1.0zM551.2 317.3l1.0 1.0l-1.0 1.0l-1.0 -1.0zM554.3 317.3l1.0 1.0l-1.0 1.0l-1.0 -1.0zM556.4 317.3l1.0 1.0l-1.0 1.0l-1.0 -1.0zM559.5 316.9l1.0 1.0l-1.0 1.0l-1.0 -1.0zM561.1 315.2l1.0 1.0l-1.0 1.0l-1.0 -1.0zM564.2 315.2l1.0 1.0l-1.0 1.0l-1.0 -1.0zM567.3 315.2l1.0 1.0l-1.0 1.0l-1.0 -1.0zM570.6 313.3l1.0 1.0l-1.0 1.0l-1.0 -1.0zM573.7 313.3l1.0 1.0l-1.0 1.0l-1.0 -1.0zM577.5 312.8l1.0 1.0l-1.0 1.0l-1.0 -1.0zM580.6 311.6l1.0 1.0l-1.0 1.0l-1.0 -1.0zM583.7 311.6l1.0 1.0l-1.0 1.0l-1.0 -1.0zM586.8 311.6l1.0 1.0l-1.0 1.0l-1.0 -1.0zM589.9 311.6l1.0 1.0l-1.0 1.0l-1.0 -1.0zM592.0 311.6l1.0 1.0l-1.0 1.0l-1.0 -1.0zM595.1 309.0l1.0 1.0l-1.0 1.0l-1.0 -1.0zM597.2 307.3l1.0 1.0l-1.0 1.0l-1.0 -1.0zM600.3 307.3l1.0 1.0l-1.0 1.0l-1.0 -1.0zM603.4 307.3l1.0 1.0l-1.0 1.0l-1.0 -1.0zM606.5 306.4l1.0 1.0l-1.0 1.0l-1.0 -1.0zM609.1 305.7l1.0 1.0l-1.0 1.0l-1.0 -1.0zM612.2 305.7l1.0 1.0l-1.0 1.0l-1.0 -1.0zM615.3 305.8l1.0 1.0l-1.0 1.0l-1.0 -1.0zM619.0 305.0l1.0 1.0l-1.0 1.0l-1.0 -1.0zM622.1 304.2l1.0 1.0l-1.0 1.0l-1.0 -1.0zM625.2 303.4l1.0 1.0l-1.0 1.0l-1.0 -1.0zM629.7 302.1l1.0 1.0l-1.0 1.0l-1.0 -1.0zM632.8 301.3l1.0 1.0l-1.0 1.0l-1.0 -1.0zM635.9 300.4l1.0 1.0l-1.0 1.0l-1.0 -1.0zM640.4 300.0l1.0 1.0l-1.0 1.0l-1.0 -1.0zM643.5 300.0l1.0 1.0l-1.0 1.0l-1.0 -1.0zM647.5 299.3l1.0 1.0l-1.0 1.0l-1.0 -1.0zM650.6 298.5l1.0 1.0l-1.0 1.0l-1.0 -1.0zM654.6 297.5l1.0 1.0l-1.0 1.0l-1.0 -1.0zM657.7 296.7l1.0 1.0l-1.0 1.0l-1.0 -1.0zM660.8 296.0l1.0 1.0l-1.0 1.0l-1.0 -1.0zM664.1 295.9l1.0 1.0l-1.0 1.0l-1.0 -1.0zM666.9 295.9l1.0 1.0l-1.0 1.0l-1.0 -1.0zM670.0 295.0l1.0 1.0l-1.0 1.0l-1.0 -1.0zM674.2 294.7l1.0 1.0l-1.0 1.0l-1.0 -1.0zM677.3 294.7l1.0 1.0l-1.0 1.0l-1.0 -1.0zM680.0 294.7l1.0 1.0l-1.0 1.0l-1.0 -1.0zM681.8 292.4l1.0 1.0l-1.0 1.0l-1.0 -1.0zM683.8 292.7l1.0 1.0l-1.0 1.0l-1.0 -1.0zM686.9 292.2l1.0 1.0l-1.0 1.0l-1.0 -1.0zM690.5 291.1l1.0 1.0l-1.0 1.0l-1.0 -1.0zM692.6 290.4l1.0 1.0l-1.0 1.0l-1.0 -1.0zM695.7 290.4l1.0 1.0l-1.0 1.0l-1.0 -1.0zM697.4 290.4l1.0 1.0l-1.0 1.0l-1.0 -1.0zM700.5 289.5l1.0 1.0l-1.0 1.0l-1.0 -1.0zM702.6 288.9l1.0 1.0l-1.0 1.0l-1.0 -1.0zM705.7 288.9l1.0 1.0l-1.0 1.0l-1.0 -1.0zM709.9 288.0l1.0 1.0l-1.0 1.0l-1.0 -1.0zM712.6 287.2l1.0 1.0l-1.0 1.0l-1.0 -1.0zM714.4 286.9l1.0 1.0l-1.0 1.0l-1.0 -1.0zM714.8 285.1l1.0 1.0l-1.0 1.0l-1.0 -1.0zM717.9 283.6l1.0 1.0l-1.0 1.0l-1.0 -1.0zM721.6 284.2l1.0 1.0l-1.0 1.0l-1.0 -1.0zM724.4 285.1l1.0 1.0l-1.0 1.0l-1.0 -1.0zM727.5 283.5l1.0 1.0l-1.0 1.0l-1.0 -1.0zM731.0 283.3l1.0 1.0l-1.0 1.0l-1.0 -1.0zM734.1 283.3l1.0 1.0l-1.0 1.0l-1.0 -1.0z" fill="#ff00ff"/>
<polyline points="73.2,451.0 73.1,425.3 73.6,410.2 74.2,395.0 74.7,381.8 76.4,368.7 79.1,338.7 89.8,329.8 93.6,341.2 91.9,339.4 88.6,340.7 87.3,342.7 88.1,343.7 92.1,344.2 96.1,343.4 100.1,341.0 103.5,338.7 106.1,336.4 108.8,334.9 111.9,335.1 114.6,337.9 116.1,337.4 118.9,338.3 121.4,336.2 122.7,333.4 125.2,333.4 128.2,331.4 131.8,328.3 135.0,326.2 137.6,325.9 140.8,324.5 144.4,327.2 146.7,325.1 148.9,326.2 151.0,322.9 154.2,320.3 156.9,319.7 159.5,320.6 162.2,316.3 166.0,317.6 169.4,320.1 172.4,308.5 175.6,312.6 178.6,316.9 182.0,315.8 185.2,309.8 187.9,308.0 191.1,307.2 193.7,305.3 197.2,302.6 200.4,304.0 202.8,304.0 205.0,300.8 209.4,296.8 212.8,298.1 217.3,295.0 221.5,293.1 225.1,289.0 227.6,290.2 231.6,289.6 238.3,285.2 244.4,282.9 248.4,281.2 254.4,280.5 256.5,279.1 260.2,282.1 262.5,277.8 268.5,277.8 273.3,273.1 277.3,270.8 280.6,270.8 287.4,263.7 291.4,261.7 295.7,255.2 303.7,254.2 305.8,252.9 308.4,250.2 311.1,249.5 316.5,249.9 321.9,248.6 324.6,245.8 327.9,244.8 330.6,240.4 334.0,239.4 337.3,238.1 340.4,239.8 343.4,235.8 347.4,233.1 352.8,226.7 354.8,225.7 358.2,226.9 361.5,224.7 363.5,226.0 366.9,221.3 373.0,219.7 375.0,216.6 377.7,217.0 381.0,214.6 384.4,213.2 387.7,213.9 390.7,211.2 394.0,211.5 396.7,206.3 399.4,206.5 402.8,202.5 405.5,199.8 408.8,201.2 412.2,202.1 414.9,196.7 416.9,198.9 419.6,197.8 422.9,198.9 427.4,195.1 430.3,197.5 433.7,197.8 435.4,191.7 439.1,195.8 443.1,193.8 444.8,191.5 447.1,193.1 450.5,191.7 453.2,196.5 455.9,194.8 457.9,195.8 458.5,199.1 462.6,199.8 467.3,197.8 472.0,193.1 474.9,187.0 476.7,188.4 480.7,181.9 482.1,177.6 486.1,178.3 487.4,179.2 489.0,182.8 493.7,172.9 498.4,175.9 501.8,170.5 504.5,163.8 506.8,160.4 509.9,160.4 512.6,154.8 518.6,153.7 520.6,156.4 525.3,157.0 529.4,150.6 534.1,157.7 541.5,151.0 542.5,153.3 546.2,149.2 551.9,143.6 552.2,140.9 555.6,142.9 560.3,142.3 560.9,139.6 564.3,139.3 565.6,148.3 569.7,150.1 574.4,152.3 577.7,149.2 580.4,148.0 586.0,139.1 588.7,143.7 591.0,140.4 594.5,146.1 597.7,140.7 603.5,141.4 604.9,137.3 609.6,138.0 614.9,137.3 619.4,126.6 623.7,129.7 626.4,129.7 632.4,125.6 637.5,123.6 642.9,128.3 643.8,122.6 650.6,123.9 651.2,120.8 653.9,122.6 661.3,123.5 666.0,119.9 670.2,119.2 672.0,119.9 676.1,117.6 680.8,115.4 682.1,118.9 682.8,116.5 687.2,109.4 692.9,121.0 696.9,116.5 702.3,116.5 706.3,118.5 712.8,114.9 714.1,111.8 714.4,105.5 722.8,115.2 724.5,110.1 727.8,110.9 733.9,119.5 734.9,133.3 736.3,170.0 736.9,192.5 718.8,315.0" fill="none" stroke="#0000ff" stroke-width="1.0" stroke-linejoin="round"/>
<path d="M73.2 450.5l1.0 1.0l-1.0 1.0l-1.0 -1.0zM73.1 424.8l1.0 1.0l-1.0 1.0l-1.0 -1.0zM73.6 409.7l1.0 1.0l-1.0 1.0l-1.0 -1.0zM74.2 394.5l1.0 1.0l-1.0 1.0l-1.0 -1.0zM74.7 381.3l1.0 1.0l-1.0 1.0l-1.0 -1.0zM76.4 368.2l1.0 1.0l-1.0 1.0l-1.0 -1.0zM79.1 338.2l1.0 1.0l-1.0 1.0l-1.0 -1.0zM82.2 335.6l1.0 1.0l-1.0 1.0l-1.0 -1.0zM85.3 333.0l1.0 1.0l-1.0 1.0l-1.0 -1.0zM88.4 330.5l1.0 1.0l-1.0 1.0l-1.0 -1.0zM92.9 338.6l1.0 1.0l-1.0 1.0l-1.0 -1.0zM93.6 340.7l1.0 1.0l-1.0 1.0l-1.0 -1.0zM91.9 338.9l1.0 1.0l-1.0 1.0l-1.0 -1.0zM88.8 340.1l1.0 1.0l-1.0 1.0l-1.0 -1.0zM87.3 342.2l1.0 1.0l-1.0 1.0l-1.0 -1.0zM91.2 343.6l1.0 1.0l-1.0 1.0l-1.0 -1.0zM95.2 343.1l1.0 1.0l-1.0 1.0l-1.0 -1.0zM99.2 341.0l1.0 1.0l-1.0 1.0l-1.0 -1.0zM103.2 338.4l1.0 1.0l-1.0 1.0l-1.0 -1.0zM106.1 335.9l1.0 1.0l-1.0 1.0l-1.0 -1.0zM108.8 334.4l1.0 1.0l-1.0 1.0l-1.0 -1.0zM111.9 334.6l1.0 1.0l-1.0 1.0l-1.0 -1.0zM114.6 337.4l1.0 1.0l-1.0 1.0l-1.0 -1.0zM116.1 336.9l1.0 1.0l-1.0 1.0l-1.0 -1.0zM118.9 337.8l1.0 1.0l-1.0 1.0l-1.0 -1.0zM121.4 335.7l1.0 1.0l-1.0 1.0l-1.0 -1.0zM122.7 332.9l1.0 1.0l-1.0 1.0l-1.0 -1.0zM125.2 332.9l1.0 1.0l-1.0 1.0l-1.0 -1.0zM128.2 330.9l1.0 1.0l-1.0 1.0l-1.0 -1.0zM131.3 328.2l1.0 1.0l-1.0 1.0l-1.0 -1.0zM134.9 325.8l1.0 1.0l-1.0 1.0l-1.0 -1.0zM137.6 325.4l1.0 1.0l-1.0 1.0l-1.0 -1.0zM140.7 324.0l1.0 1.0l-1.0 1.0l-1.0 -1.0zM143.9 326.3l1.0 1.0l-1.0 1.0l-1.0 -1.0zM146.7 324.6l1.0 1.0l-1.0 1.0l-1.0 -1.0zM148.9 325.7l1.0 1.0l-1.0 1.0l-1.0 -1.0zM151.0 322.4l1.0 1.0l-1.0 1.0l-1.0 -1.0zM154.1 319.9l1.0 1.0l-1.0 1.0l-1.0 -1.0zM156.9 319.2l1.0 1.0l-1.0 1.0l-1.0 -1.0zM159.5 320.1l1.0 1.0l-1.0 1.0l-1.0 -1.0zM162.2 315.8l1.0 1.0l-1.0 1.0l-1.0 -1.0zM165.3 316.9l1.0 1.0l-1.0 1.0l-1.0 -1.0zM169.1 319.4l1.0 1.0l-1.0 1.0l-1.0 -1.0zM172.4 308.0l1.0 1.0l-1.0 1.0l-1.0 -1.0zM175.5 312.0l1.0 1.0l-1.0 1.0l-1.0 -1.0zM178.6 316.4l1.0 1.0l-1.0 1.0l-1.0 -1.0zM181.7 315.4l1.0 1.0l-1.0 1.0l-1.0 -1.0zM185.1 309.5l1.0 1.0l-1.0 1.0l-1.0 -1.0zM187.9 307.5l1.0 1.0l-1.0 1.0l-1.0 -1.0zM191.0 306.7l1.0 1.0l-1.0 1.0l-1.0 -1.0zM193.7 304.8l1.0 1.0l-1.0 1.0l-1.0 -1.0zM196.8 302.4l1.0 1.0l-1.0 1.0l-1.0 -1.0zM200.3 303.5l1.0 1.0l-1.0 1.0l-1.0 -1.0zM202.8 303.5l1.0 1.0l-1.0 1.0l-1.0 -1.0zM205.0 300.3l1.0 1.0l-1.0 1.0l-1.0 -1.0zM208.1 297.5l1.0 1.0l-1.0 1.0l-1.0 -1.0zM212.5 297.5l1.0 1.0l-1.0 1.0l-1.0 -1.0zM215.9 295.5l1.0 1.0l-1.0 1.0l-1.0 -1.0zM220.4 293.1l1.0 1.0l-1.0 1.0l-1.0 -1.0zM224.6 289.1l1.0 1.0l-1.0 1.0l-1.0 -1.0zM227.6 289.7l1.0 1.0l-1.0 1.0l-1.0 -1.0zM230.7 289.2l1.0 1.0l-1.0 1.0l-1.0 -1.0zM234.7 287.1l1.0 1.0l-1.0 1.0l-1.0 -1.0zM237.8 285.0l1.0 1.0l-1.0 1.0l-1.0 -1.0zM241.4 283.5l1.0 1.0l-1.0 1.0l-1.0 -1.0zM244.4 282.4l1.0 1.0l-1.0 1.0l-1.0 -1.0zM247.5 281.1l1.0 1.0l-1.0 1.0l-1.0 -1.0zM251.5 280.3l1.0 1.0l-1.0 1.0l-1.0 -1.0zM254.4 280.0l1.0 1.0l-1.0 1.0l-1.0 -1.0zM256.5 278.6l1.0 1.0l-1.0 1.0l-1.0 -1.0zM259.6 281.1l1.0 1.0l-1.0 1.0l-1.0 -1.0zM262.5 277.3l1.0 1.0l-1.0 1.0l-1.0 -1.0zM265.6 277.3l1.0 1.0l-1.0 1.0l-1.0 -1.0zM268.5 277.3l1.0 1.0l-1.0 1.0l-1.0 -1.0zM271.6 274.3l1.0 1.0l-1.0 1.0l-1.0 -1.0zM273.3 272.6l1.0 1.0l-1.0 1.0l-1.0 -1.0zM276.4 270.8l1.0 1.0l-1.0 1.0l-1.0 -1.0zM280.4 270.3l1.0 1.0l-1.0 1.0l-1.0 -1.0zM283.7 267.1l1.0 1.0l-1.0 1.0l-1.0 -1.0zM286.8 263.8l1.0 1.0l-1.0 1.0l-1.0 -1.0zM290.5 261.6l1.0 1.0l-1.0 1.0l-1.0 -1.0zM294.5 256.5l1.0 1.0l-1.0 1.0l-1.0 -1.0zM295.7 254.7l1.0 1.0l-1.0 1.0l-1.0 -1.0zM298.8 254.3l1.0 1.0l-1.0 1.0l-1.0 -1.0zM301.9 253.9l1.0 1.0l-1.0 1.0l-1.0 -1.0zM303.7 253.7l1.0 1.0l-1.0 1.0l-1.0 -1.0zM305.8 252.4l1.0 1.0l-1.0 1.0l-1.0 -1.0zM308.4 249.7l1.0 1.0l-1.0 1.0l-1.0 -1.0zM311.1 249.0l1.0 1.0l-1.0 1.0l-1.0 -1.0zM314.2 249.2l1.0 1.0l-1.0 1.0l-1.0 -1.0zM316.5 249.4l1.0 1.0l-1.0 1.0l-1.0 -1.0zM319.6 248.7l1.0 1.0l-1.0 1.0l-1.0 -1.0zM321.9 248.1l1.0 1.0l-1.0 1.0l-1.0 -1.0zM324.6 245.3l1.0 1.0l-1.0 1.0l-1.0 -1.0zM327.7 244.4l1.0 1.0l-1.0 1.0l-1.0 -1.0zM330.6 239.9l1.0 1.0l-1.0 1.0l-1.0 -1.0zM333.7 239.0l1.0 1.0l-1.0 1.0l-1.0 -1.0zM337.1 237.7l1.0 1.0l-1.0 1.0l-1.0 -1.0zM340.4 239.3l1.0 1.0l-1.0 1.0l-1.0 -1.0zM343.4 235.3l1.0 1.0l-1.0 1.0l-1.0 -1.0zM346.5 233.2l1.0 1.0l-1.0 1.0l-1.0 -1.0zM350.5 228.9l1.0 1.0l-1.0 1.0l-1.0 -1.0zM352.8 226.2l1.0 1.0l-1.0 1.0l-1.0 -1.0zM354.8 225.2l1.0 1.0l-1.0 1.0l-1.0 -1.0zM357.9 226.3l1.0 1.0l-1.0 1.0l-1.0 -1.0zM361.3 224.3l1.0 1.0l-1.0 1.0l-1.0 -1.0zM363.5 225.5l1.0 1.0l-1.0 1.0l-1.0 -1.0zM366.6 221.2l1.0 1.0l-1.0 1.0l-1.0 -1.0zM370.0 220.0l1.0 1.0l-1.0 1.0l-1.0 -1.0zM373.0 219.2l1.0 1.0l-1.0 1.0l-1.0 -1.0zM375.0 216.1l1.0 1.0l-1.0 1.0l-1.0 -1.0zM377.7 216.5l1.0 1.0l-1.0 1.0l-1.0 -1.0zM380.8 214.2l1.0 1.0l-1.0 1.0l-1.0 -1.0zM384.1 212.8l1.0 1.0l-1.0 1.0l-1.0 -1.0zM387.5 213.4l1.0 1.0l-1.0 1.0l-1.0 -1.0zM390.7 210.7l1.0 1.0l-1.0 1.0l-1.0 -1.0zM393.8 211.0l1.0 1.0l-1.0 1.0l-1.0 -1.0zM396.7 205.8l1.0 1.0l-1.0 1.0l-1.0 -1.0zM399.4 206.0l1.0 1.0l-1.0 1.0l-1.0 -1.0zM402.5 202.4l1.0 1.0l-1.0 1.0l-1.0 -1.0zM405.5 199.3l1.0 1.0l-1.0 1.0l-1.0 -1.0zM408.6 200.6l1.0 1.0l-1.0 1.0l-1.0 -1.0zM411.9 201.5l1.0 1.0l-1.0 1.0l-1.0 -1.0zM414.9 196.2l1.0 1.0l-1.0 1.0l-1.0 -1.0zM416.9 198.4l1.0 1.0l-1.0 1.0l-1.0 -1.0zM419.6 197.3l1.0 1.0l-1.0 1.0l-1.0 -1.0zM422.7 198.3l1.0 1.0l-1.0 1.0l-1.0 -1.0zM426.0 195.8l1.0 1.0l-1.0 1.0l-1.0 -1.0zM430.3 197.0l1.0 1.0l-1.0 1.0l-1.0 -1.0zM433.4 197.3l1.0 1.0l-1.0 1.0l-1.0 -1.0zM435.4 191.2l1.0 1.0l-1.0 1.0l-1.0 -1.0zM438.5 194.6l1.0 1.0l-1.0 1.0l-1.0 -1.0zM442.2 193.8l1.0 1.0l-1.0 1.0l-1.0 -1.0zM444.8 191.0l1.0 1.0l-1.0 1.0l-1.0 -1.0zM447.1 192.6l1.0 1.0l-1.0 1.0l-1.0 -1.0zM450.2 191.3l1.0 1.0l-1.0 1.0l-1.0 -1.0zM453.2 196.0l1.0 1.0l-1.0 1.0l-1.0 -1.0zM455.9 194.3l1.0 1.0l-1.0 1.0l-1.0 -1.0zM457.9 195.3l1.0 1.0l-1.0 1.0l-1.0 -1.0zM458.5 198.6l1.0 1.0l-1.0 1.0l-1.0 -1.0zM461.6 199.1l1.0 1.0l-1.0 1.0l-1.0 -1.0zM465.7 198.0l1.0 1.0l-1.0 1.0l-1.0 -1.0zM467.3 197.3l1.0 1.0l-1.0 1.0l-1.0 -1.0zM470.4 194.2l1.0 1.0l-1.0 1.0l-1.0 -1.0zM472.0 192.6l1.0 1.0l-1.0 1.0l-1.0 -1.0zM474.9 186.5l1.0 1.0l-1.0 1.0l-1.0 -1.0zM476.7 187.9l1.0 1.0l-1.0 1.0l-1.0 -1.0zM479.8 182.9l1.0 1.0l-1.0 1.0l-1.0 -1.0zM482.1 177.1l1.0 1.0l-1.0 1.0l-1.0 -1.0zM485.2 177.6l1.0 1.0l-1.0 1.0l-1.0 -1.0zM487.4 178.7l1.0 1.0l-1.0 1.0l-1.0 -1.0zM489.0 182.3l1.0 1.0l-1.0 1.0l-1.0 -1.0zM492.1 175.8l1.0 1.0l-1.0 1.0l-1.0 -1.0zM493.7 172.4l1.0 1.0l-1.0 1.0l-1.0 -1.0zM496.8 174.4l1.0 1.0l-1.0 1.0l-1.0 -1.0zM498.4 175.4l1.0 1.0l-1.0 1.0l-1.0 -1.0zM501.5 170.5l1.0 1.0l-1.0 1.0l-1.0 -1.0zM504.5 163.3l1.0 1.0l-1.0 1.0l-1.0 -1.0zM506.8 159.9l1.0 1.0l-1.0 1.0l-1.0 -1.0zM509.9 159.9l1.0 1.0l-1.0 1.0l-1.0 -1.0zM512.6 154.3l1.0 1.0l-1.0 1.0l-1.0 -1.0zM515.7 153.7l1.0 1.0l-1.0 1.0l-1.0 -1.0zM518.6 153.2l1.0 1.0l-1.0 1.0l-1.0 -1.0zM520.6 155.9l1.0 1.0l-1.0 1.0l-1.0 -1.0zM523.7 156.3l1.0 1.0l-1.0 1.0l-1.0 -1.0zM525.3 156.5l1.0 1.0l-1.0 1.0l-1.0 -1.0zM528.4 151.7l1.0 1.0l-1.0 1.0l-1.0 -1.0zM529.4 150.1l1.0 1.0l-1.0 1.0l-1.0 -1.0zM532.5 154.8l1.0 1.0l-1.0 1.0l-1.0 -1.0zM534.1 157.2l1.0 1.0l-1.0 1.0l-1.0 -1.0zM537.2 154.4l1.0 1.0l-1.0 1.0l-1.0 -1.0zM540.3 151.6l1.0 1.0l-1.0 1.0l-1.0 -1.0zM542.5 152.8l1.0 1.0l-1.0 1.0l-1.0 -1.0zM545.6 149.4l1.0 1.0l-1.0 1.0l-1.0 -1.0zM549.3 145.7l1.0 1.0l-1.0 1.0l-1.0 -1.0zM551.9 143.1l1.0 1.0l-1.0 1.0l-1.0 -1.0zM552.2 140.4l1.0 1.0l-1.0 1.0l-1.0 -1.0zM555.3 142.2l1.0 1.0l-1.0 1.0l-1.0 -1.0zM558.7 142.0l1.0 1.0l-1.0 1.0l-1.0 -1.0zM560.3 141.8l1.0 1.0l-1.0 1.0l-1.0 -1.0zM560.9 139.1l1.0 1.0l-1.0 1.0l-1.0 -1.0zM564.0 138.8l1.0 1.0l-1.0 1.0l-1.0 -1.0zM565.6 147.8l1.0 1.0l-1.0 1.0l-1.0 -1.0zM568.7 149.2l1.0 1.0l-1.0 1.0l-1.0 -1.0zM572.8 151.1l1.0 1.0l-1.0 1.0l-1.0 -1.0zM574.4 151.8l1.0 1.0l-1.0 1.0l-1.0 -1.0zM577.5 148.9l1.0 1.0l-1.0 1.0l-1.0 -1.0zM580.4 147.5l1.0 1.0l-1.0 1.0l-1.0 -1.0zM583.5 142.6l1.0 1.0l-1.0 1.0l-1.0 -1.0zM586.0 138.6l1.0 1.0l-1.0 1.0l-1.0 -1.0zM588.7 143.2l1.0 1.0l-1.0 1.0l-1.0 -1.0zM591.0 139.9l1.0 1.0l-1.0 1.0l-1.0 -1.0zM594.1 144.9l1.0 1.0l-1.0 1.0l-1.0 -1.0zM597.6 140.4l1.0 1.0l-1.0 1.0l-1.0 -1.0zM600.8 140.6l1.0 1.0l-1.0 1.0l-1.0 -1.0zM603.5 140.9l1.0 1.0l-1.0 1.0l-1.0 -1.0zM604.9 136.8l1.0 1.0l-1.0 1.0l-1.0 -1.0zM608.0 137.3l1.0 1.0l-1.0 1.0l-1.0 -1.0zM609.6 137.5l1.0 1.0l-1.0 1.0l-1.0 -1.0zM612.7 137.1l1.0 1.0l-1.0 1.0l-1.0 -1.0zM614.9 136.8l1.0 1.0l-1.0 1.0l-1.0 -1.0zM618.0 129.4l1.0 1.0l-1.0 1.0l-1.0 -1.0zM619.4 126.1l1.0 1.0l-1.0 1.0l-1.0 -1.0zM622.5 128.3l1.0 1.0l-1.0 1.0l-1.0 -1.0zM626.4 129.2l1.0 1.0l-1.0 1.0l-1.0 -1.0zM629.5 127.1l1.0 1.0l-1.0 1.0l-1.0 -1.0zM632.4 125.1l1.0 1.0l-1.0 1.0l-1.0 -1.0zM635.5 123.9l1.0 1.0l-1.0 1.0l-1.0 -1.0zM637.5 123.1l1.0 1.0l-1.0 1.0l-1.0 -1.0zM640.6 125.8l1.0 1.0l-1.0 1.0l-1.0 -1.0zM642.9 127.8l1.0 1.0l-1.0 1.0l-1.0 -1.0zM643.8 122.1l1.0 1.0l-1.0 1.0l-1.0 -1.0zM646.9 122.7l1.0 1.0l-1.0 1.0l-1.0 -1.0zM650.0 123.3l1.0 1.0l-1.0 1.0l-1.0 -1.0zM651.2 120.3l1.0 1.0l-1.0 1.0l-1.0 -1.0zM653.9 122.1l1.0 1.0l-1.0 1.0l-1.0 -1.0zM657.0 122.5l1.0 1.0l-1.0 1.0l-1.0 -1.0zM660.1 122.9l1.0 1.0l-1.0 1.0l-1.0 -1.0zM664.4 120.6l1.0 1.0l-1.0 1.0l-1.0 -1.0zM666.0 119.4l1.0 1.0l-1.0 1.0l-1.0 -1.0zM669.1 118.9l1.0 1.0l-1.0 1.0l-1.0 -1.0zM672.0 119.4l1.0 1.0l-1.0 1.0l-1.0 -1.0zM675.1 117.7l1.0 1.0l-1.0 1.0l-1.0 -1.0zM679.2 115.6l1.0 1.0l-1.0 1.0l-1.0 -1.0zM680.8 114.9l1.0 1.0l-1.0 1.0l-1.0 -1.0zM682.1 118.4l1.0 1.0l-1.0 1.0l-1.0 -1.0zM682.8 116.0l1.0 1.0l-1.0 1.0l-1.0 -1.0zM685.9 111.0l1.0 1.0l-1.0 1.0l-1.0 -1.0zM687.2 108.9l1.0 1.0l-1.0 1.0l-1.0 -1.0zM690.3 115.2l1.0 1.0l-1.0 1.0l-1.0 -1.0zM692.9 120.5l1.0 1.0l-1.0 1.0l-1.0 -1.0zM696.0 117.0l1.0 1.0l-1.0 1.0l-1.0 -1.0zM700.0 116.0l1.0 1.0l-1.0 1.0l-1.0 -1.0zM702.3 116.0l1.0 1.0l-1.0 1.0l-1.0 -1.0zM705.4 117.5l1.0 1.0l-1.0 1.0l-1.0 -1.0zM709.4 116.3l1.0 1.0l-1.0 1.0l-1.0 -1.0zM712.5 114.6l1.0 1.0l-1.0 1.0l-1.0 -1.0zM714.1 111.3l1.0 1.0l-1.0 1.0l-1.0 -1.0zM714.4 105.0l1.0 1.0l-1.0 1.0l-1.0 -1.0zM717.5 108.6l1.0 1.0l-1.0 1.0l-1.0 -1.0zM720.6 112.2l1.0 1.0l-1.0 1.0l-1.0 -1.0zM722.8 114.7l1.0 1.0l-1.0 1.0l-1.0 -1.0zM724.5 109.6l1.0 1.0l-1.0 1.0l-1.0 -1.0zM727.6 110.4l1.0 1.0l-1.0 1.0l-1.0 -1.0zM730.9 114.8l1.0 1.0l-1.0 1.0l-1.0 -1.0zM733.9 119.0l1.0 1.0l-1.0 1.0l-1.0 -1.0zM734.9 132.8l1.0 1.0l-1.0 1.0l-1.0 -1.0zM736.3 169.5l1.0 1.0l-1.0 1.0l-1.0 -1.0zM736.9 192.0l1.0 1.0l-1.0 1.0l-1.0 -1.0zM733.8 213.0l1.0 1.0l-1.0 1.0l-1.0 -1.0zM730.7 234.0l1.0 1.0l-1.0 1.0l-1.0 -1.0zM727.6 254.9l1.0 1.0l-1.0 1.0l-1.0 -1.0zM724.5 275.9l1.0 1.0l-1.0 1.0l-1.0 -1.0zM721.4 296.9l1.0 1.0l-1.0 1.0l-1.0 -1.0z" fill="#0000ff"/>
<polyline points="72.8,445.0 74.3,425.0 75.4,410.0 77.0,395.0 79.0,378.0 83.5,361.0 86.3,352.0 89.0,346.0 93.6,329.1 92.1,324.5 90.1,323.0 88.0,321.0 90.1,323.0 92.1,323.2 96.6,325.0 99.2,325.3 103.5,323.8 106.6,323.1 109.1,322.5 112.1,322.6 114.9,323.3 116.6,324.8 119.2,326.3 121.7,327.1 124.7,325.6 128.2,324.8 131.8,323.3 135.0,322.9 137.6,322.4 140.8,321.6 144.0,324.3 147.3,323.5 149.4,325.6 151.5,324.0 154.2,324.3 156.9,325.1 159.5,325.1 162.8,322.9 166.0,323.7 169.4,325.6 172.4,323.7 175.6,322.9 178.8,324.9 182.0,325.4 185.2,325.4 188.4,324.3 191.6,323.3 194.8,321.9 197.5,320.8 200.2,321.9 203.4,322.4 206.6,321.2 208.6,320.3 219.3,320.3 224.6,318.9 231.1,318.9 232.9,319.7 235.9,318.7 238.8,319.7 241.8,318.9 252.5,318.9 254.3,319.7 256.7,318.9 260.2,321.1 263.2,320.3 269.1,320.3 272.7,319.5 276.9,317.9 280.4,318.7 283.4,317.7 287.5,315.5 290.5,315.5 295.3,314.1 298.2,312.6 301.2,313.8 303.0,313.5 305.9,312.6 310.7,311.8 314.3,312.6 322.0,312.6 324.3,313.9 328.5,312.4 336.8,310.8 339.8,311.5 342.8,310.6 346.9,309.7 350.5,308.2 354.6,306.8 359.4,308.2 361.8,308.4 366.5,308.2 370.1,306.1 374.2,306.1 377.8,307.0 380.8,306.1 385.5,306.4 387.9,307.0 390.3,306.1 394.4,306.1 399.8,304.4 403.3,304.0 408.1,303.2 412.8,304.0 417.0,304.9 423.5,306.1 426.5,305.2 430.0,307.0 435.4,306.1 439.5,307.0 443.7,308.4 449.6,308.4 456.8,311.2 460.9,313.5 466.3,314.4 472.2,314.4 477.0,310.6 480.5,310.0 482.9,308.2 487.0,308.4 490.0,307.3 494.8,306.8 498.9,305.8 501.9,307.0 504.8,305.8 509.0,305.6 513.2,303.4 516.7,304.9 520.6,302.5 525.6,304.9 529.2,303.2 532.8,304.6 537.5,305.2 541.2,305.5 545.5,305.3 551.6,304.3 555.4,304.7 560.7,305.0 563.5,304.5 570.2,309.7 573.0,310.7 578.2,312.1 583.5,311.3 587.7,311.6 592.0,310.7 597.7,310.4 603.9,312.1 605.8,310.4 610.1,310.4 615.3,313.0 619.4,312.1 627.2,309.7 632.5,311.2 642.6,311.2 644.4,309.8 650.3,312.1 653.9,315.1 661.0,313.6 666.9,313.6 672.3,316.0 680.3,315.0 682.1,316.2 683.2,315.2 687.4,317.1 692.6,317.6 697.4,317.6 702.6,319.1 706.2,319.9 712.4,317.9 714.4,319.1 723.2,320.3 728.5,321.1 733.8,321.5 735.0,325.6 736.8,345.8 718.5,392.0" fill="none" stroke="#008000" stroke-width="1.0" stroke-linejoin="round"/>
<path d="M72.8 444.5l1.0 1.0l-1.0 1.0l-1.0 -1.0zM74.3 424.5l1.0 1.0l-1.0 1.0l-1.0 -1.0zM75.4 409.5l1.0 1.0l-1.0 1.0l-1.0 -1.0zM77.0 394.5l1.0 1.0l-1.0 1.0l-1.0 -1.0zM79.0 377.5l1.0 1.0l-1.0 1.0l-1.0 -1.0zM82.1 365.8l1.0 1.0l-1.0 1.0l-1.0 -1.0zM83.5 360.5l1.0 1.0l-1.0 1.0l-1.0 -1.0zM86.3 351.5l1.0 1.0l-1.0 1.0l-1.0 -1.0zM89.0 345.5l1.0 1.0l-1.0 1.0l-1.0 -1.0zM92.1 334.1l1.0 1.0l-1.0 1.0l-1.0 -1.0zM93.6 328.6l1.0 1.0l-1.0 1.0l-1.0 -1.0zM92.1 324.0l1.0 1.0l-1.0 1.0l-1.0 -1.0zM90.1 322.5l1.0 1.0l-1.0 1.0l-1.0 -1.0zM88.0 320.5l1.0 1.0l-1.0 1.0l-1.0 -1.0zM90.1 322.5l1.0 1.0l-1.0 1.0l-1.0 -1.0zM92.1 322.7l1.0 1.0l-1.0 1.0l-1.0 -1.0zM95.2 323.9l1.0 1.0l-1.0 1.0l-1.0 -1.0zM99.2 324.8l1.0 1.0l-1.0 1.0l-1.0 -1.0zM102.3 323.7l1.0 1.0l-1.0 1.0l-1.0 -1.0zM106.6 322.6l1.0 1.0l-1.0 1.0l-1.0 -1.0zM109.1 322.0l1.0 1.0l-1.0 1.0l-1.0 -1.0zM112.1 322.1l1.0 1.0l-1.0 1.0l-1.0 -1.0zM114.9 322.8l1.0 1.0l-1.0 1.0l-1.0 -1.0zM116.6 324.3l1.0 1.0l-1.0 1.0l-1.0 -1.0zM119.2 325.8l1.0 1.0l-1.0 1.0l-1.0 -1.0zM121.7 326.6l1.0 1.0l-1.0 1.0l-1.0 -1.0zM124.7 325.1l1.0 1.0l-1.0 1.0l-1.0 -1.0zM127.8 324.4l1.0 1.0l-1.0 1.0l-1.0 -1.0zM131.3 323.0l1.0 1.0l-1.0 1.0l-1.0 -1.0zM134.9 322.4l1.0 1.0l-1.0 1.0l-1.0 -1.0zM137.6 321.9l1.0 1.0l-1.0 1.0l-1.0 -1.0zM140.7 321.1l1.0 1.0l-1.0 1.0l-1.0 -1.0zM143.9 323.7l1.0 1.0l-1.0 1.0l-1.0 -1.0zM147.1 323.0l1.0 1.0l-1.0 1.0l-1.0 -1.0zM149.4 325.1l1.0 1.0l-1.0 1.0l-1.0 -1.0zM151.5 323.5l1.0 1.0l-1.0 1.0l-1.0 -1.0zM154.2 323.8l1.0 1.0l-1.0 1.0l-1.0 -1.0zM156.9 324.6l1.0 1.0l-1.0 1.0l-1.0 -1.0zM159.5 324.6l1.0 1.0l-1.0 1.0l-1.0 -1.0zM162.6 322.5l1.0 1.0l-1.0 1.0l-1.0 -1.0zM165.9 323.2l1.0 1.0l-1.0 1.0l-1.0 -1.0zM169.1 324.9l1.0 1.0l-1.0 1.0l-1.0 -1.0zM172.4 323.2l1.0 1.0l-1.0 1.0l-1.0 -1.0zM175.5 322.4l1.0 1.0l-1.0 1.0l-1.0 -1.0zM178.7 324.3l1.0 1.0l-1.0 1.0l-1.0 -1.0zM181.9 324.9l1.0 1.0l-1.0 1.0l-1.0 -1.0zM185.1 324.9l1.0 1.0l-1.0 1.0l-1.0 -1.0zM188.3 323.8l1.0 1.0l-1.0 1.0l-1.0 -1.0zM191.5 322.8l1.0 1.0l-1.0 1.0l-1.0 -1.0zM194.7 321.4l1.0 1.0l-1.0 1.0l-1.0 -1.0zM197.5 320.3l1.0 1.0l-1.0 1.0l-1.0 -1.0zM200.2 321.4l1.0 1.0l-1.0 1.0l-1.0 -1.0zM203.3 321.9l1.0 1.0l-1.0 1.0l-1.0 -1.0zM206.5 320.7l1.0 1.0l-1.0 1.0l-1.0 -1.0zM208.6 319.8l1.0 1.0l-1.0 1.0l-1.0 -1.0zM211.7 319.8l1.0 1.0l-1.0 1.0l-1.0 -1.0zM214.8 319.8l1.0 1.0l-1.0 1.0l-1.0 -1.0zM217.9 319.8l1.0 1.0l-1.0 1.0l-1.0 -1.0zM222.4 319.0l1.0 1.0l-1.0 1.0l-1.0 -1.0zM224.6 318.4l1.0 1.0l-1.0 1.0l-1.0 -1.0zM227.7 318.4l1.0 1.0l-1.0 1.0l-1.0 -1.0zM230.8 318.4l1.0 1.0l-1.0 1.0l-1.0 -1.0zM232.9 319.2l1.0 1.0l-1.0 1.0l-1.0 -1.0zM235.9 318.2l1.0 1.0l-1.0 1.0l-1.0 -1.0zM238.8 319.2l1.0 1.0l-1.0 1.0l-1.0 -1.0zM241.8 318.4l1.0 1.0l-1.0 1.0l-1.0 -1.0zM244.9 318.4l1.0 1.0l-1.0 1.0l-1.0 -1.0zM248.0 318.4l1.0 1.0l-1.0 1.0l-1.0 -1.0zM251.1 318.4l1.0 1.0l-1.0 1.0l-1.0 -1.0zM254.3 319.2l1.0 1.0l-1.0 1.0l-1.0 -1.0zM256.7 318.4l1.0 1.0l-1.0 1.0l-1.0 -1.0zM259.8 320.3l1.0 1.0l-1.0 1.0l-1.0 -1.0zM263.2 319.8l1.0 1.0l-1.0 1.0l-1.0 -1.0zM266.3 319.8l1.0 1.0l-1.0 1.0l-1.0 -1.0zM269.1 319.8l1.0 1.0l-1.0 1.0l-1.0 -1.0zM272.2 319.1l1.0 1.0l-1.0 1.0l-1.0 -1.0zM275.8 317.8l1.0 1.0l-1.0 1.0l-1.0 -1.0zM280.0 318.1l1.0 1.0l-1.0 1.0l-1.0 -1.0zM283.4 317.2l1.0 1.0l-1.0 1.0l-1.0 -1.0zM286.5 315.5l1.0 1.0l-1.0 1.0l-1.0 -1.0zM290.5 315.0l1.0 1.0l-1.0 1.0l-1.0 -1.0zM293.6 314.1l1.0 1.0l-1.0 1.0l-1.0 -1.0zM295.3 313.6l1.0 1.0l-1.0 1.0l-1.0 -1.0zM298.2 312.1l1.0 1.0l-1.0 1.0l-1.0 -1.0zM301.2 313.3l1.0 1.0l-1.0 1.0l-1.0 -1.0zM303.0 313.0l1.0 1.0l-1.0 1.0l-1.0 -1.0zM305.9 312.1l1.0 1.0l-1.0 1.0l-1.0 -1.0zM309.0 311.6l1.0 1.0l-1.0 1.0l-1.0 -1.0zM310.7 311.3l1.0 1.0l-1.0 1.0l-1.0 -1.0zM313.8 312.0l1.0 1.0l-1.0 1.0l-1.0 -1.0zM317.4 312.1l1.0 1.0l-1.0 1.0l-1.0 -1.0zM320.5 312.1l1.0 1.0l-1.0 1.0l-1.0 -1.0zM322.0 312.1l1.0 1.0l-1.0 1.0l-1.0 -1.0zM324.3 313.4l1.0 1.0l-1.0 1.0l-1.0 -1.0zM327.4 312.3l1.0 1.0l-1.0 1.0l-1.0 -1.0zM331.6 311.3l1.0 1.0l-1.0 1.0l-1.0 -1.0zM334.7 310.7l1.0 1.0l-1.0 1.0l-1.0 -1.0zM336.8 310.3l1.0 1.0l-1.0 1.0l-1.0 -1.0zM339.8 311.0l1.0 1.0l-1.0 1.0l-1.0 -1.0zM342.8 310.1l1.0 1.0l-1.0 1.0l-1.0 -1.0zM345.9 309.4l1.0 1.0l-1.0 1.0l-1.0 -1.0zM350.0 307.9l1.0 1.0l-1.0 1.0l-1.0 -1.0zM353.6 306.6l1.0 1.0l-1.0 1.0l-1.0 -1.0zM357.7 307.2l1.0 1.0l-1.0 1.0l-1.0 -1.0zM359.4 307.7l1.0 1.0l-1.0 1.0l-1.0 -1.0zM361.8 307.9l1.0 1.0l-1.0 1.0l-1.0 -1.0zM364.9 307.8l1.0 1.0l-1.0 1.0l-1.0 -1.0zM366.5 307.7l1.0 1.0l-1.0 1.0l-1.0 -1.0zM369.6 305.9l1.0 1.0l-1.0 1.0l-1.0 -1.0zM373.2 305.6l1.0 1.0l-1.0 1.0l-1.0 -1.0zM377.3 306.4l1.0 1.0l-1.0 1.0l-1.0 -1.0zM380.8 305.6l1.0 1.0l-1.0 1.0l-1.0 -1.0zM383.9 305.8l1.0 1.0l-1.0 1.0l-1.0 -1.0zM385.5 305.9l1.0 1.0l-1.0 1.0l-1.0 -1.0zM387.9 306.5l1.0 1.0l-1.0 1.0l-1.0 -1.0zM390.3 305.6l1.0 1.0l-1.0 1.0l-1.0 -1.0zM393.4 305.6l1.0 1.0l-1.0 1.0l-1.0 -1.0zM397.5 304.6l1.0 1.0l-1.0 1.0l-1.0 -1.0zM399.8 303.9l1.0 1.0l-1.0 1.0l-1.0 -1.0zM402.9 303.5l1.0 1.0l-1.0 1.0l-1.0 -1.0zM406.4 303.0l1.0 1.0l-1.0 1.0l-1.0 -1.0zM408.1 302.7l1.0 1.0l-1.0 1.0l-1.0 -1.0zM411.2 303.2l1.0 1.0l-1.0 1.0l-1.0 -1.0zM412.8 303.5l1.0 1.0l-1.0 1.0l-1.0 -1.0zM415.9 304.2l1.0 1.0l-1.0 1.0l-1.0 -1.0zM420.1 305.0l1.0 1.0l-1.0 1.0l-1.0 -1.0zM423.2 305.5l1.0 1.0l-1.0 1.0l-1.0 -1.0zM426.5 304.7l1.0 1.0l-1.0 1.0l-1.0 -1.0zM429.6 306.3l1.0 1.0l-1.0 1.0l-1.0 -1.0zM433.1 306.0l1.0 1.0l-1.0 1.0l-1.0 -1.0zM435.4 305.6l1.0 1.0l-1.0 1.0l-1.0 -1.0zM438.5 306.3l1.0 1.0l-1.0 1.0l-1.0 -1.0zM442.6 307.5l1.0 1.0l-1.0 1.0l-1.0 -1.0zM446.8 307.9l1.0 1.0l-1.0 1.0l-1.0 -1.0zM449.6 307.9l1.0 1.0l-1.0 1.0l-1.0 -1.0zM452.7 309.1l1.0 1.0l-1.0 1.0l-1.0 -1.0zM455.8 310.3l1.0 1.0l-1.0 1.0l-1.0 -1.0zM459.9 312.4l1.0 1.0l-1.0 1.0l-1.0 -1.0zM464.0 313.5l1.0 1.0l-1.0 1.0l-1.0 -1.0zM466.3 313.9l1.0 1.0l-1.0 1.0l-1.0 -1.0zM469.4 313.9l1.0 1.0l-1.0 1.0l-1.0 -1.0zM472.2 313.9l1.0 1.0l-1.0 1.0l-1.0 -1.0zM475.3 311.4l1.0 1.0l-1.0 1.0l-1.0 -1.0zM477.0 310.1l1.0 1.0l-1.0 1.0l-1.0 -1.0zM480.1 309.6l1.0 1.0l-1.0 1.0l-1.0 -1.0zM482.9 307.7l1.0 1.0l-1.0 1.0l-1.0 -1.0zM486.0 307.9l1.0 1.0l-1.0 1.0l-1.0 -1.0zM490.0 306.8l1.0 1.0l-1.0 1.0l-1.0 -1.0zM493.1 306.5l1.0 1.0l-1.0 1.0l-1.0 -1.0zM494.8 306.3l1.0 1.0l-1.0 1.0l-1.0 -1.0zM497.9 305.5l1.0 1.0l-1.0 1.0l-1.0 -1.0zM501.9 306.5l1.0 1.0l-1.0 1.0l-1.0 -1.0zM504.8 305.3l1.0 1.0l-1.0 1.0l-1.0 -1.0zM507.9 305.2l1.0 1.0l-1.0 1.0l-1.0 -1.0zM512.1 303.5l1.0 1.0l-1.0 1.0l-1.0 -1.0zM516.3 304.2l1.0 1.0l-1.0 1.0l-1.0 -1.0zM519.8 302.5l1.0 1.0l-1.0 1.0l-1.0 -1.0zM523.7 303.5l1.0 1.0l-1.0 1.0l-1.0 -1.0zM525.6 304.4l1.0 1.0l-1.0 1.0l-1.0 -1.0zM528.7 302.9l1.0 1.0l-1.0 1.0l-1.0 -1.0zM532.3 303.9l1.0 1.0l-1.0 1.0l-1.0 -1.0zM535.9 304.5l1.0 1.0l-1.0 1.0l-1.0 -1.0zM537.5 304.7l1.0 1.0l-1.0 1.0l-1.0 -1.0zM540.6 305.0l1.0 1.0l-1.0 1.0l-1.0 -1.0zM544.3 304.9l1.0 1.0l-1.0 1.0l-1.0 -1.0zM548.6 304.3l1.0 1.0l-1.0 1.0l-1.0 -1.0zM551.6 303.8l1.0 1.0l-1.0 1.0l-1.0 -1.0zM554.7 304.1l1.0 1.0l-1.0 1.0l-1.0 -1.0zM558.5 304.4l1.0 1.0l-1.0 1.0l-1.0 -1.0zM560.7 304.5l1.0 1.0l-1.0 1.0l-1.0 -1.0zM563.5 304.0l1.0 1.0l-1.0 1.0l-1.0 -1.0zM566.6 306.4l1.0 1.0l-1.0 1.0l-1.0 -1.0zM569.7 308.8l1.0 1.0l-1.0 1.0l-1.0 -1.0zM573.0 310.2l1.0 1.0l-1.0 1.0l-1.0 -1.0zM576.1 311.0l1.0 1.0l-1.0 1.0l-1.0 -1.0zM578.2 311.6l1.0 1.0l-1.0 1.0l-1.0 -1.0zM581.3 311.1l1.0 1.0l-1.0 1.0l-1.0 -1.0zM583.5 310.8l1.0 1.0l-1.0 1.0l-1.0 -1.0zM586.6 311.0l1.0 1.0l-1.0 1.0l-1.0 -1.0zM590.8 310.5l1.0 1.0l-1.0 1.0l-1.0 -1.0zM595.1 310.0l1.0 1.0l-1.0 1.0l-1.0 -1.0zM597.7 309.9l1.0 1.0l-1.0 1.0l-1.0 -1.0zM600.8 310.8l1.0 1.0l-1.0 1.0l-1.0 -1.0zM603.9 311.6l1.0 1.0l-1.0 1.0l-1.0 -1.0zM605.8 309.9l1.0 1.0l-1.0 1.0l-1.0 -1.0zM608.9 309.9l1.0 1.0l-1.0 1.0l-1.0 -1.0zM613.2 311.4l1.0 1.0l-1.0 1.0l-1.0 -1.0zM615.3 312.5l1.0 1.0l-1.0 1.0l-1.0 -1.0zM618.4 311.8l1.0 1.0l-1.0 1.0l-1.0 -1.0zM622.5 310.6l1.0 1.0l-1.0 1.0l-1.0 -1.0zM625.6 309.7l1.0 1.0l-1.0 1.0l-1.0 -1.0zM627.2 309.2l1.0 1.0l-1.0 1.0l-1.0 -1.0zM630.3 310.1l1.0 1.0l-1.0 1.0l-1.0 -1.0zM632.5 310.7l1.0 1.0l-1.0 1.0l-1.0 -1.0zM635.6 310.7l1.0 1.0l-1.0 1.0l-1.0 -1.0zM638.7 310.7l1.0 1.0l-1.0 1.0l-1.0 -1.0zM641.8 310.7l1.0 1.0l-1.0 1.0l-1.0 -1.0zM644.4 309.3l1.0 1.0l-1.0 1.0l-1.0 -1.0zM647.5 310.5l1.0 1.0l-1.0 1.0l-1.0 -1.0zM650.3 311.6l1.0 1.0l-1.0 1.0l-1.0 -1.0zM653.4 314.2l1.0 1.0l-1.0 1.0l-1.0 -1.0zM657.0 313.9l1.0 1.0l-1.0 1.0l-1.0 -1.0zM660.1 313.3l1.0 1.0l-1.0 1.0l-1.0 -1.0zM664.1 313.1l1.0 1.0l-1.0 1.0l-1.0 -1.0zM666.9 313.1l1.0 1.0l-1.0 1.0l-1.0 -1.0zM670.0 314.5l1.0 1.0l-1.0 1.0l-1.0 -1.0zM672.3 315.5l1.0 1.0l-1.0 1.0l-1.0 -1.0zM675.4 315.1l1.0 1.0l-1.0 1.0l-1.0 -1.0zM678.5 314.7l1.0 1.0l-1.0 1.0l-1.0 -1.0zM680.3 314.5l1.0 1.0l-1.0 1.0l-1.0 -1.0zM682.1 315.7l1.0 1.0l-1.0 1.0l-1.0 -1.0zM686.3 316.1l1.0 1.0l-1.0 1.0l-1.0 -1.0zM690.5 316.9l1.0 1.0l-1.0 1.0l-1.0 -1.0zM692.6 317.1l1.0 1.0l-1.0 1.0l-1.0 -1.0zM695.7 317.1l1.0 1.0l-1.0 1.0l-1.0 -1.0zM697.4 317.1l1.0 1.0l-1.0 1.0l-1.0 -1.0zM700.5 318.0l1.0 1.0l-1.0 1.0l-1.0 -1.0zM702.6 318.6l1.0 1.0l-1.0 1.0l-1.0 -1.0zM705.7 319.3l1.0 1.0l-1.0 1.0l-1.0 -1.0zM709.3 318.4l1.0 1.0l-1.0 1.0l-1.0 -1.0zM712.4 317.4l1.0 1.0l-1.0 1.0l-1.0 -1.0zM714.4 318.6l1.0 1.0l-1.0 1.0l-1.0 -1.0zM717.5 319.0l1.0 1.0l-1.0 1.0l-1.0 -1.0zM720.6 319.4l1.0 1.0l-1.0 1.0l-1.0 -1.0zM723.2 319.8l1.0 1.0l-1.0 1.0l-1.0 -1.0zM726.3 320.3l1.0 1.0l-1.0 1.0l-1.0 -1.0zM728.5 320.6l1.0 1.0l-1.0 1.0l-1.0 -1.0zM731.6 320.8l1.0 1.0l-1.0 1.0l-1.0 -1.0zM733.8 321.0l1.0 1.0l-1.0 1.0l-1.0 -1.0zM735.0 325.1l1.0 1.0l-1.0 1.0l-1.0 -1.0zM736.8 345.3l1.0 1.0l-1.0 1.0l-1.0 -1.0zM733.7 353.1l1.0 1.0l-1.0 1.0l-1.0 -1.0zM730.6 361.0l1.0 1.0l-1.0 1.0l-1.0 -1.0zM727.5 368.8l1.0 1.0l-1.0 1.0l-1.0 -1.0zM724.4 376.6l1.0 1.0l-1.0 1.0l-1.0 -1.0zM721.3 384.4l1.0 1.0l-1.0 1.0l-1.0 -1.0z" fill="#008000"/>
<polyline points="72.7,193.0 74.8,187.4 79.5,187.4 87.9,196.1 88.3,192.5 88.4,197.6 87.4,205.0 87.7,215.4 92.2,220.5 91.6,218.0 89.3,209.7 89.7,198.2 90.3,198.2 94.1,209.4 92.5,217.4 92.5,221.2 96.3,237.8 99.2,243.0 115.0,242.8 115.9,248.4 118.9,248.4 121.3,254.3 122.5,248.4 125.2,248.4 128.4,242.5 137.3,242.5 140.6,248.4 144.4,248.4 148.0,254.3 148.6,259.5 166.4,259.5 169.4,265.0 174.7,265.0 176.5,274.5 182.4,293.0 187.2,282.3 191.4,276.3 197.3,254.9 201.4,247.8 205.0,237.6 221.5,237.5 224.9,242.8 227.6,242.8 230.2,248.5 232.9,248.5 238.3,259.4 242.3,259.4 244.8,265.3 251.1,265.3 253.8,271.1 263.2,271.1 265.2,265.3 274.6,265.3 276.6,259.4 282.3,259.4 287.4,254.3 303.8,254.3 305.9,259.3 308.6,259.3 311.3,265.4 314.3,270.8 317.2,270.8 319.6,276.4 322.0,276.4 324.3,281.8 337.4,281.8 340.4,287.4 343.3,287.4 347.3,293.0 351.1,286.8 354.6,276.4 358.2,276.4 361.2,281.8 373.6,281.8 377.2,293.0 387.9,293.0 390.9,298.5 394.4,298.5 396.6,293.0 402.7,293.0 405.7,298.5 412.2,298.5 414.6,304.0 419.3,304.0 423.3,310.0 426.1,310.0 426.8,304.4 450.8,304.4 454.4,310.6 457.8,320.5 459.7,313.0 467.4,298.1 472.2,292.8 474.6,282.1 476.4,270.8 481.7,264.8 487.0,264.8 488.8,270.8 493.6,276.4 498.3,276.4 501.3,281.8 517.3,281.8 518.5,287.4 520.9,287.8 525.0,293.3 533.9,293.3 541.7,287.4 551.8,287.4 552.0,293.0 560.7,293.0 563.5,298.3 565.9,298.3 568.4,304.0 570.2,309.3 574.0,314.0 578.2,321.1 581.1,321.1 585.8,304.3 597.2,304.3 603.9,298.3 603.4,304.3 615.6,304.3 619.4,309.7 627.2,309.7 637.3,320.7 643.8,320.7 650.9,326.7 653.9,332.2 737.0,332.2" fill="none" stroke="#ff0000" stroke-width="1.0" stroke-linejoin="round"/>
<path d="M72.7 192.5l1.0 1.0l-1.0 1.0l-1.0 -1.0zM74.8 186.9l1.0 1.0l-1.0 1.0l-1.0 -1.0zM77.9 186.9l1.0 1.0l-1.0 1.0l-1.0 -1.0zM79.5 186.9l1.0 1.0l-1.0 1.0l-1.0 -1.0zM82.6 190.1l1.0 1.0l-1.0 1.0l-1.0 -1.0zM85.7 193.3l1.0 1.0l-1.0 1.0l-1.0 -1.0zM87.9 195.6l1.0 1.0l-1.0 1.0l-1.0 -1.0zM88.3 192.0l1.0 1.0l-1.0 1.0l-1.0 -1.0zM88.4 197.1l1.0 1.0l-1.0 1.0l-1.0 -1.0zM87.4 204.5l1.0 1.0l-1.0 1.0l-1.0 -1.0zM87.7 214.9l1.0 1.0l-1.0 1.0l-1.0 -1.0zM90.8 218.4l1.0 1.0l-1.0 1.0l-1.0 -1.0zM92.2 220.0l1.0 1.0l-1.0 1.0l-1.0 -1.0zM91.6 217.5l1.0 1.0l-1.0 1.0l-1.0 -1.0zM89.3 209.2l1.0 1.0l-1.0 1.0l-1.0 -1.0zM89.7 197.7l1.0 1.0l-1.0 1.0l-1.0 -1.0zM93.4 206.8l1.0 1.0l-1.0 1.0l-1.0 -1.0zM94.1 208.9l1.0 1.0l-1.0 1.0l-1.0 -1.0zM92.5 220.7l1.0 1.0l-1.0 1.0l-1.0 -1.0zM95.6 234.2l1.0 1.0l-1.0 1.0l-1.0 -1.0zM96.3 237.3l1.0 1.0l-1.0 1.0l-1.0 -1.0zM99.2 242.5l1.0 1.0l-1.0 1.0l-1.0 -1.0zM102.3 242.5l1.0 1.0l-1.0 1.0l-1.0 -1.0zM105.4 242.4l1.0 1.0l-1.0 1.0l-1.0 -1.0zM108.5 242.4l1.0 1.0l-1.0 1.0l-1.0 -1.0zM111.6 242.3l1.0 1.0l-1.0 1.0l-1.0 -1.0zM114.7 242.3l1.0 1.0l-1.0 1.0l-1.0 -1.0zM115.9 247.9l1.0 1.0l-1.0 1.0l-1.0 -1.0zM118.9 247.9l1.0 1.0l-1.0 1.0l-1.0 -1.0zM121.3 253.8l1.0 1.0l-1.0 1.0l-1.0 -1.0zM122.5 247.9l1.0 1.0l-1.0 1.0l-1.0 -1.0zM125.2 247.9l1.0 1.0l-1.0 1.0l-1.0 -1.0zM128.3 242.2l1.0 1.0l-1.0 1.0l-1.0 -1.0zM131.5 242.0l1.0 1.0l-1.0 1.0l-1.0 -1.0zM134.6 242.0l1.0 1.0l-1.0 1.0l-1.0 -1.0zM137.3 242.0l1.0 1.0l-1.0 1.0l-1.0 -1.0zM140.4 247.5l1.0 1.0l-1.0 1.0l-1.0 -1.0zM143.7 247.9l1.0 1.0l-1.0 1.0l-1.0 -1.0zM147.5 253.0l1.0 1.0l-1.0 1.0l-1.0 -1.0zM148.6 259.0l1.0 1.0l-1.0 1.0l-1.0 -1.0zM151.7 259.0l1.0 1.0l-1.0 1.0l-1.0 -1.0zM154.8 259.0l1.0 1.0l-1.0 1.0l-1.0 -1.0zM157.9 259.0l1.0 1.0l-1.0 1.0l-1.0 -1.0zM161.0 259.0l1.0 1.0l-1.0 1.0l-1.0 -1.0zM164.1 259.0l1.0 1.0l-1.0 1.0l-1.0 -1.0zM166.4 259.0l1.0 1.0l-1.0 1.0l-1.0 -1.0zM169.4 264.5l1.0 1.0l-1.0 1.0l-1.0 -1.0zM172.5 264.5l1.0 1.0l-1.0 1.0l-1.0 -1.0zM174.7 264.5l1.0 1.0l-1.0 1.0l-1.0 -1.0zM176.5 274.0l1.0 1.0l-1.0 1.0l-1.0 -1.0zM179.6 283.7l1.0 1.0l-1.0 1.0l-1.0 -1.0zM182.4 292.5l1.0 1.0l-1.0 1.0l-1.0 -1.0zM185.5 285.6l1.0 1.0l-1.0 1.0l-1.0 -1.0zM187.2 281.8l1.0 1.0l-1.0 1.0l-1.0 -1.0zM190.3 277.4l1.0 1.0l-1.0 1.0l-1.0 -1.0zM191.4 275.8l1.0 1.0l-1.0 1.0l-1.0 -1.0zM194.5 264.6l1.0 1.0l-1.0 1.0l-1.0 -1.0zM197.3 254.4l1.0 1.0l-1.0 1.0l-1.0 -1.0zM200.4 249.0l1.0 1.0l-1.0 1.0l-1.0 -1.0zM201.4 247.3l1.0 1.0l-1.0 1.0l-1.0 -1.0zM204.5 238.5l1.0 1.0l-1.0 1.0l-1.0 -1.0zM208.1 237.1l1.0 1.0l-1.0 1.0l-1.0 -1.0zM211.2 237.1l1.0 1.0l-1.0 1.0l-1.0 -1.0zM214.3 237.0l1.0 1.0l-1.0 1.0l-1.0 -1.0zM217.4 237.0l1.0 1.0l-1.0 1.0l-1.0 -1.0zM220.5 237.0l1.0 1.0l-1.0 1.0l-1.0 -1.0zM224.6 241.8l1.0 1.0l-1.0 1.0l-1.0 -1.0zM227.6 242.3l1.0 1.0l-1.0 1.0l-1.0 -1.0zM230.2 248.0l1.0 1.0l-1.0 1.0l-1.0 -1.0zM232.9 248.0l1.0 1.0l-1.0 1.0l-1.0 -1.0zM236.0 254.3l1.0 1.0l-1.0 1.0l-1.0 -1.0zM238.3 258.9l1.0 1.0l-1.0 1.0l-1.0 -1.0zM241.4 258.9l1.0 1.0l-1.0 1.0l-1.0 -1.0zM244.8 264.8l1.0 1.0l-1.0 1.0l-1.0 -1.0zM247.9 264.8l1.0 1.0l-1.0 1.0l-1.0 -1.0zM251.0 264.8l1.0 1.0l-1.0 1.0l-1.0 -1.0zM253.8 270.6l1.0 1.0l-1.0 1.0l-1.0 -1.0zM256.9 270.6l1.0 1.0l-1.0 1.0l-1.0 -1.0zM260.0 270.6l1.0 1.0l-1.0 1.0l-1.0 -1.0zM263.1 270.6l1.0 1.0l-1.0 1.0l-1.0 -1.0zM265.2 264.8l1.0 1.0l-1.0 1.0l-1.0 -1.0zM268.3 264.8l1.0 1.0l-1.0 1.0l-1.0 -1.0zM271.4 264.8l1.0 1.0l-1.0 1.0l-1.0 -1.0zM274.5 264.8l1.0 1.0l-1.0 1.0l-1.0 -1.0zM276.6 258.9l1.0 1.0l-1.0 1.0l-1.0 -1.0zM279.7 258.9l1.0 1.0l-1.0 1.0l-1.0 -1.0zM282.3 258.9l1.0 1.0l-1.0 1.0l-1.0 -1.0zM285.4 255.8l1.0 1.0l-1.0 1.0l-1.0 -1.0zM287.4 253.8l1.0 1.0l-1.0 1.0l-1.0 -1.0zM290.5 253.8l1.0 1.0l-1.0 1.0l-1.0 -1.0zM293.6 253.8l1.0 1.0l-1.0 1.0l-1.0 -1.0zM296.7 253.8l1.0 1.0l-1.0 1.0l-1.0 -1.0zM299.8 253.8l1.0 1.0l-1.0 1.0l-1.0 -1.0zM302.9 253.8l1.0 1.0l-1.0 1.0l-1.0 -1.0zM305.9 258.8l1.0 1.0l-1.0 1.0l-1.0 -1.0zM308.6 258.8l1.0 1.0l-1.0 1.0l-1.0 -1.0zM311.3 264.9l1.0 1.0l-1.0 1.0l-1.0 -1.0zM314.3 270.3l1.0 1.0l-1.0 1.0l-1.0 -1.0zM317.2 270.3l1.0 1.0l-1.0 1.0l-1.0 -1.0zM319.6 275.9l1.0 1.0l-1.0 1.0l-1.0 -1.0zM322.0 275.9l1.0 1.0l-1.0 1.0l-1.0 -1.0zM324.3 281.3l1.0 1.0l-1.0 1.0l-1.0 -1.0zM327.4 281.3l1.0 1.0l-1.0 1.0l-1.0 -1.0zM330.5 281.3l1.0 1.0l-1.0 1.0l-1.0 -1.0zM333.6 281.3l1.0 1.0l-1.0 1.0l-1.0 -1.0zM336.7 281.3l1.0 1.0l-1.0 1.0l-1.0 -1.0zM340.4 286.9l1.0 1.0l-1.0 1.0l-1.0 -1.0zM343.3 286.9l1.0 1.0l-1.0 1.0l-1.0 -1.0zM346.4 291.2l1.0 1.0l-1.0 1.0l-1.0 -1.0zM350.4 287.4l1.0 1.0l-1.0 1.0l-1.0 -1.0zM354.2 277.1l1.0 1.0l-1.0 1.0l-1.0 -1.0zM357.7 275.9l1.0 1.0l-1.0 1.0l-1.0 -1.0zM361.2 281.3l1.0 1.0l-1.0 1.0l-1.0 -1.0zM364.3 281.3l1.0 1.0l-1.0 1.0l-1.0 -1.0zM367.4 281.3l1.0 1.0l-1.0 1.0l-1.0 -1.0zM370.5 281.3l1.0 1.0l-1.0 1.0l-1.0 -1.0zM373.6 281.3l1.0 1.0l-1.0 1.0l-1.0 -1.0zM376.7 290.9l1.0 1.0l-1.0 1.0l-1.0 -1.0zM377.2 292.5l1.0 1.0l-1.0 1.0l-1.0 -1.0zM380.3 292.5l1.0 1.0l-1.0 1.0l-1.0 -1.0zM383.4 292.5l1.0 1.0l-1.0 1.0l-1.0 -1.0zM386.5 292.5l1.0 1.0l-1.0 1.0l-1.0 -1.0zM390.9 298.0l1.0 1.0l-1.0 1.0l-1.0 -1.0zM394.0 298.0l1.0 1.0l-1.0 1.0l-1.0 -1.0zM396.6 292.5l1.0 1.0l-1.0 1.0l-1.0 -1.0zM399.7 292.5l1.0 1.0l-1.0 1.0l-1.0 -1.0zM402.7 292.5l1.0 1.0l-1.0 1.0l-1.0 -1.0zM405.7 298.0l1.0 1.0l-1.0 1.0l-1.0 -1.0zM408.8 298.0l1.0 1.0l-1.0 1.0l-1.0 -1.0zM411.9 298.0l1.0 1.0l-1.0 1.0l-1.0 -1.0zM414.6 303.5l1.0 1.0l-1.0 1.0l-1.0 -1.0zM417.7 303.5l1.0 1.0l-1.0 1.0l-1.0 -1.0zM419.3 303.5l1.0 1.0l-1.0 1.0l-1.0 -1.0zM422.4 308.1l1.0 1.0l-1.0 1.0l-1.0 -1.0zM426.1 309.5l1.0 1.0l-1.0 1.0l-1.0 -1.0zM426.8 303.9l1.0 1.0l-1.0 1.0l-1.0 -1.0zM429.9 303.9l1.0 1.0l-1.0 1.0l-1.0 -1.0zM433.0 303.9l1.0 1.0l-1.0 1.0l-1.0 -1.0zM436.1 303.9l1.0 1.0l-1.0 1.0l-1.0 -1.0zM439.2 303.9l1.0 1.0l-1.0 1.0l-1.0 -1.0zM442.3 303.9l1.0 1.0l-1.0 1.0l-1.0 -1.0zM445.4 303.9l1.0 1.0l-1.0 1.0l-1.0 -1.0zM448.5 303.9l1.0 1.0l-1.0 1.0l-1.0 -1.0zM450.8 303.9l1.0 1.0l-1.0 1.0l-1.0 -1.0zM453.9 309.2l1.0 1.0l-1.0 1.0l-1.0 -1.0zM457.5 319.1l1.0 1.0l-1.0 1.0l-1.0 -1.0zM459.7 312.5l1.0 1.0l-1.0 1.0l-1.0 -1.0zM462.8 306.5l1.0 1.0l-1.0 1.0l-1.0 -1.0zM465.9 300.5l1.0 1.0l-1.0 1.0l-1.0 -1.0zM467.4 297.6l1.0 1.0l-1.0 1.0l-1.0 -1.0zM470.5 294.2l1.0 1.0l-1.0 1.0l-1.0 -1.0zM472.2 292.3l1.0 1.0l-1.0 1.0l-1.0 -1.0zM474.6 281.6l1.0 1.0l-1.0 1.0l-1.0 -1.0zM476.4 270.3l1.0 1.0l-1.0 1.0l-1.0 -1.0zM479.5 266.8l1.0 1.0l-1.0 1.0l-1.0 -1.0zM481.7 264.3l1.0 1.0l-1.0 1.0l-1.0 -1.0zM484.8 264.3l1.0 1.0l-1.0 1.0l-1.0 -1.0zM487.0 264.3l1.0 1.0l-1.0 1.0l-1.0 -1.0zM488.8 270.3l1.0 1.0l-1.0 1.0l-1.0 -1.0zM491.9 273.9l1.0 1.0l-1.0 1.0l-1.0 -1.0zM493.6 275.9l1.0 1.0l-1.0 1.0l-1.0 -1.0zM496.7 275.9l1.0 1.0l-1.0 1.0l-1.0 -1.0zM498.3 275.9l1.0 1.0l-1.0 1.0l-1.0 -1.0zM501.3 281.3l1.0 1.0l-1.0 1.0l-1.0 -1.0zM504.4 281.3l1.0 1.0l-1.0 1.0l-1.0 -1.0zM507.5 281.3l1.0 1.0l-1.0 1.0l-1.0 -1.0zM510.6 281.3l1.0 1.0l-1.0 1.0l-1.0 -1.0zM513.7 281.3l1.0 1.0l-1.0 1.0l-1.0 -1.0zM516.8 281.3l1.0 1.0l-1.0 1.0l-1.0 -1.0zM518.5 286.9l1.0 1.0l-1.0 1.0l-1.0 -1.0zM520.9 287.3l1.0 1.0l-1.0 1.0l-1.0 -1.0zM524.0 291.5l1.0 1.0l-1.0 1.0l-1.0 -1.0zM528.1 292.8l1.0 1.0l-1.0 1.0l-1.0 -1.0zM531.2 292.8l1.0 1.0l-1.0 1.0l-1.0 -1.0zM533.9 292.8l1.0 1.0l-1.0 1.0l-1.0 -1.0zM537.0 290.5l1.0 1.0l-1.0 1.0l-1.0 -1.0zM540.1 288.1l1.0 1.0l-1.0 1.0l-1.0 -1.0zM541.7 286.9l1.0 1.0l-1.0 1.0l-1.0 -1.0zM544.8 286.9l1.0 1.0l-1.0 1.0l-1.0 -1.0zM547.9 286.9l1.0 1.0l-1.0 1.0l-1.0 -1.0zM551.0 286.9l1.0 1.0l-1.0 1.0l-1.0 -1.0zM552.0 292.5l1.0 1.0l-1.0 1.0l-1.0 -1.0zM555.1 292.5l1.0 1.0l-1.0 1.0l-1.0 -1.0zM558.2 292.5l1.0 1.0l-1.0 1.0l-1.0 -1.0zM560.7 292.5l1.0 1.0l-1.0 1.0l-1.0 -1.0zM563.5 297.8l1.0 1.0l-1.0 1.0l-1.0 -1.0zM565.9 297.8l1.0 1.0l-1.0 1.0l-1.0 -1.0zM568.4 303.5l1.0 1.0l-1.0 1.0l-1.0 -1.0zM570.2 308.8l1.0 1.0l-1.0 1.0l-1.0 -1.0zM573.3 312.6l1.0 1.0l-1.0 1.0l-1.0 -1.0zM577.1 318.7l1.0 1.0l-1.0 1.0l-1.0 -1.0zM578.2 320.6l1.0 1.0l-1.0 1.0l-1.0 -1.0zM581.1 320.6l1.0 1.0l-1.0 1.0l-1.0 -1.0zM584.2 309.5l1.0 1.0l-1.0 1.0l-1.0 -1.0zM585.8 303.8l1.0 1.0l-1.0 1.0l-1.0 -1.0zM588.9 303.8l1.0 1.0l-1.0 1.0l-1.0 -1.0zM592.0 303.8l1.0 1.0l-1.0 1.0l-1.0 -1.0zM595.1 303.8l1.0 1.0l-1.0 1.0l-1.0 -1.0zM597.2 303.8l1.0 1.0l-1.0 1.0l-1.0 -1.0zM600.3 301.0l1.0 1.0l-1.0 1.0l-1.0 -1.0zM603.4 298.2l1.0 1.0l-1.0 1.0l-1.0 -1.0zM603.4 303.8l1.0 1.0l-1.0 1.0l-1.0 -1.0zM606.5 303.8l1.0 1.0l-1.0 1.0l-1.0 -1.0zM609.6 303.8l1.0 1.0l-1.0 1.0l-1.0 -1.0zM612.7 303.8l1.0 1.0l-1.0 1.0l-1.0 -1.0zM615.6 303.8l1.0 1.0l-1.0 1.0l-1.0 -1.0zM618.7 308.2l1.0 1.0l-1.0 1.0l-1.0 -1.0zM622.5 309.2l1.0 1.0l-1.0 1.0l-1.0 -1.0zM625.6 309.2l1.0 1.0l-1.0 1.0l-1.0 -1.0zM627.2 309.2l1.0 1.0l-1.0 1.0l-1.0 -1.0zM630.3 312.6l1.0 1.0l-1.0 1.0l-1.0 -1.0zM633.4 316.0l1.0 1.0l-1.0 1.0l-1.0 -1.0zM636.5 319.3l1.0 1.0l-1.0 1.0l-1.0 -1.0zM640.4 320.2l1.0 1.0l-1.0 1.0l-1.0 -1.0zM643.5 320.2l1.0 1.0l-1.0 1.0l-1.0 -1.0zM646.9 322.8l1.0 1.0l-1.0 1.0l-1.0 -1.0zM650.0 325.4l1.0 1.0l-1.0 1.0l-1.0 -1.0zM653.9 331.7l1.0 1.0l-1.0 1.0l-1.0 -1.0zM657.0 331.7l1.0 1.0l-1.0 1.0l-1.0 -1.0zM660.1 331.7l1.0 1.0l-1.0 1.0l-1.0 -1.0zM663.2 331.7l1.0 1.0l-1.0 1.0l-1.0 -1.0zM666.3 331.7l1.0 1.0l-1.0 1.0l-1.0 -1.0zM669.4 331.7l1.0 1.0l-1.0 1.0l-1.0 -1.0zM672.5 331.7l1.0 1.0l-1.0 1.0l-1.0 -1.0zM675.6 331.7l1.0 1.0l-1.0 1.0l-1.0 -1.0zM678.7 331.7l1.0 1.0l-1.0 1.0l-1.0 -1.0zM681.8 331.7l1.0 1.0l-1.0 1.0l-1.0 -1.0zM684.9 331.7l1.0 1.0l-1.0 1.0l-1.0 -1.0zM688.0 331.7l1.0 1.0l-1.0 1.0l-1.0 -1.0zM691.1 331.7l1.0 1.0l-1.0 1.0l-1.0 -1.0zM694.2 331.7l1.0 1.0l-1.0 1.0l-1.0 -1.0zM697.3 331.7l1.0 1.0l-1.0 1.0l-1.0 -1.0zM700.4 331.7l1.0 1.0l-1.0 1.0l-1.0 -1.0zM703.5 331.7l1.0 1.0l-1.0 1.0l-1.0 -1.0zM706.6 331.7l1.0 1.0l-1.0 1.0l-1.0 -1.0zM709.7 331.7l1.0 1.0l-1.0 1.0l-1.0 -1.0zM712.8 331.7l1.0 1.0l-1.0 1.0l-1.0 -1.0zM715.9 331.7l1.0 1.0l-1.0 1.0l-1.0 -1.0zM719.0 331.7l1.0 1.0l-1.0 1.0l-1.0 -1.0zM722.1 331.7l1.0 1.0l-1.0 1.0l-1.0 -1.0zM725.2 331.7l1.0 1.0l-1.0 1.0l-1.0 -1.0zM728.3 331.7l1.0 1.0l-1.0 1.0l-1.0 -1.0zM731.4 331.7l1.0 1.0l-1.0 1.0l-1.0 -1.0zM734.5 331.7l1.0 1.0l-1.0 1.0l-1.0 -1.0z" fill="#ff0000"/>
<text x="415" y="42.4" font-size="13" text-anchor="middle" letter-spacing="0.06">2nd Gear WOT, stock, May 15</text>
<text transform="translate(57.50,469.10) scale(1,1.0)" font-size="10" text-anchor="end" class="t">10</text>
<text transform="translate(57.50,450.10) scale(1,1.0)" font-size="10" text-anchor="end" class="t">20</text>
<text transform="translate(57.50,431.10) scale(1,1.0)" font-size="10" text-anchor="end" class="t">30</text>
<text transform="translate(57.50,412.10) scale(1,1.0)" font-size="10" text-anchor="end" class="t">40</text>
<text transform="translate(57.50,393.10) scale(1,1.0)" font-size="10" text-anchor="end" class="t">50</text>
<text transform="translate(57.50,374.10) scale(1,1.0)" font-size="10" text-anchor="end" class="t">60</text>
<text transform="translate(57.50,355.10) scale(1,1.0)" font-size="10" text-anchor="end" class="t">70</text>
<text transform="translate(57.50,336.10) scale(1,1.0)" font-size="10" text-anchor="end" class="t">80</text>
<text transform="translate(57.50,318.10) scale(1,1.0)" font-size="10" text-anchor="end" class="t">90</text>
<text transform="translate(57.50,299.10) scale(1,1.0)" font-size="10" text-anchor="end" class="t">100</text>
<text transform="translate(57.50,280.10) scale(1,1.0)" font-size="10" text-anchor="end" class="t">110</text>
<text transform="translate(57.50,261.10) scale(1,1.0)" font-size="10" text-anchor="end" class="t">120</text>
<text transform="translate(57.50,242.10) scale(1,1.0)" font-size="10" text-anchor="end" class="t">130</text>
<text transform="translate(57.50,223.10) scale(1,1.0)" font-size="10" text-anchor="end" class="t">140</text>
<text transform="translate(57.50,204.10) scale(1,1.0)" font-size="10" text-anchor="end" class="t">150</text>
<text transform="translate(57.50,186.10) scale(1,1.0)" font-size="10" text-anchor="end" class="t">160</text>
<text transform="translate(57.50,167.10) scale(1,1.0)" font-size="10" text-anchor="end" class="t">170</text>
<text transform="translate(57.50,148.10) scale(1,1.0)" font-size="10" text-anchor="end" class="t">180</text>
<text transform="translate(57.50,129.10) scale(1,1.0)" font-size="10" text-anchor="end" class="t">190</text>
<text transform="translate(57.50,110.10) scale(1,1.0)" font-size="10" text-anchor="end" class="t">200</text>
<text transform="translate(57.50,91.10) scale(1,1.0)" font-size="10" text-anchor="end" class="t">210</text>
<text transform="translate(752.10,469.10) scale(1,1.0)" font-size="10" class="t">7.5</text>
<text transform="translate(752.10,450.10) scale(1,1.0)" font-size="10" class="t">8</text>
<text transform="translate(752.10,431.10) scale(1,1.0)" font-size="10" class="t">8.5</text>
<text transform="translate(752.10,412.10) scale(1,1.0)" font-size="10" class="t">9</text>
<text transform="translate(752.10,393.10) scale(1,1.0)" font-size="10" class="t">9.5</text>
<text transform="translate(752.10,374.10) scale(1,1.0)" font-size="10" class="t">10</text>
<text transform="translate(752.10,355.10) scale(1,1.0)" font-size="10" class="t">10.5</text>
<text transform="translate(752.10,336.10) scale(1,1.0)" font-size="10" class="t">11</text>
<text transform="translate(752.10,318.10) scale(1,1.0)" font-size="10" class="t">11.5</text>
<text transform="translate(752.10,299.10) scale(1,1.0)" font-size="10" class="t">12</text>
<text transform="translate(752.10,280.10) scale(1,1.0)" font-size="10" class="t">12.5</text>
<text transform="translate(752.10,261.10) scale(1,1.0)" font-size="10" class="t">13</text>
<text transform="translate(752.10,242.10) scale(1,1.0)" font-size="10" class="t">13.5</text>
<text transform="translate(752.10,223.10) scale(1,1.0)" font-size="10" class="t">14</text>
<text transform="translate(752.10,204.10) scale(1,1.0)" font-size="10" class="t">14.5</text>
<text transform="translate(752.10,186.10) scale(1,1.0)" font-size="10" class="t">15</text>
<text transform="translate(752.10,167.10) scale(1,1.0)" font-size="10" class="t">15.5</text>
<text transform="translate(752.10,148.10) scale(1,1.0)" font-size="10" class="t">16</text>
<text transform="translate(752.10,129.10) scale(1,1.0)" font-size="10" class="t">16.5</text>
<text transform="translate(752.10,110.10) scale(1,1.0)" font-size="10" class="t">17</text>
<text transform="translate(752.10,91.10) scale(1,1.0)" font-size="10" class="t">17.5</text>
<text transform="translate(64.50,481.00) scale(1,1.0)" font-size="10" text-anchor="middle" class="t">31</text>
<text transform="translate(76.50,493.00) scale(1,1.0)" font-size="10" text-anchor="middle" class="t">32</text>
<text transform="translate(88.50,481.00) scale(1,1.0)" font-size="10" text-anchor="middle" class="t">33</text>
<text transform="translate(100.50,493.00) scale(1,1.0)" font-size="10" text-anchor="middle" class="t">34</text>
<text transform="translate(112.50,481.00) scale(1,1.0)" font-size="10" text-anchor="middle" class="t">35</text>
<text transform="translate(124.50,493.00) scale(1,1.0)" font-size="10" text-anchor="middle" class="t">36</text>
<text transform="translate(136.50,481.00) scale(1,1.0)" font-size="10" text-anchor="middle" class="t">37</text>
<text transform="translate(148.50,493.00) scale(1,1.0)" font-size="10" text-anchor="middle" class="t">38</text>
<text transform="translate(160.50,481.00) scale(1,1.0)" font-size="10" text-anchor="middle" class="t">39</text>
<text transform="translate(172.50,493.00) scale(1,1.0)" font-size="10" text-anchor="middle" class="t">40</text>
<text transform="translate(184.50,481.00) scale(1,1.0)" font-size="10" text-anchor="middle" class="t">41</text>
<text transform="translate(195.50,493.00) scale(1,1.0)" font-size="10" text-anchor="middle" class="t">42</text>
<text transform="translate(207.50,481.00) scale(1,1.0)" font-size="10" text-anchor="middle" class="t">43</text>
<text transform="translate(219.50,493.00) scale(1,1.0)" font-size="10" text-anchor="middle" class="t">44</text>
<text transform="translate(231.50,481.00) scale(1,1.0)" font-size="10" text-anchor="middle" class="t">45</text>
<text transform="translate(243.50,493.00) scale(1,1.0)" font-size="10" text-anchor="middle" class="t">46</text>
<text transform="translate(255.50,481.00) scale(1,1.0)" font-size="10" text-anchor="middle" class="t">47</text>
<text transform="translate(267.50,493.00) scale(1,1.0)" font-size="10" text-anchor="middle" class="t">48</text>
<text transform="translate(279.50,481.00) scale(1,1.0)" font-size="10" text-anchor="middle" class="t">49</text>
<text transform="translate(291.50,493.00) scale(1,1.0)" font-size="10" text-anchor="middle" class="t">50</text>
<text transform="translate(303.50,481.00) scale(1,1.0)" font-size="10" text-anchor="middle" class="t">51</text>
<text transform="translate(315.50,493.00) scale(1,1.0)" font-size="10" text-anchor="middle" class="t">52</text>
<text transform="translate(327.50,481.00) scale(1,1.0)" font-size="10" text-anchor="middle" class="t">53</text>
<text transform="translate(339.50,493.00) scale(1,1.0)" font-size="10" text-anchor="middle" class="t">54</text>
<text transform="translate(351.50,481.00) scale(1,1.0)" font-size="10" text-anchor="middle" class="t">55</text>
<text transform="translate(363.50,493.00) scale(1,1.0)" font-size="10" text-anchor="middle" class="t">56</text>
<text transform="translate(375.50,481.00) scale(1,1.0)" font-size="10" text-anchor="middle" class="t">57</text>
<text transform="translate(386.50,493.00) scale(1,1.0)" font-size="10" text-anchor="middle" class="t">58</text>
<text transform="translate(398.50,481.00) scale(1,1.0)" font-size="10" text-anchor="middle" class="t">59</text>
<text transform="translate(410.50,493.00) scale(1,1.0)" font-size="10" text-anchor="middle" class="t">60</text>
<text transform="translate(422.50,481.00) scale(1,1.0)" font-size="10" text-anchor="middle" class="t">61</text>
<text transform="translate(434.50,493.00) scale(1,1.0)" font-size="10" text-anchor="middle" class="t">62</text>
<text transform="translate(446.50,481.00) scale(1,1.0)" font-size="10" text-anchor="middle" class="t">63</text>
<text transform="translate(458.50,493.00) scale(1,1.0)" font-size="10" text-anchor="middle" class="t">64</text>
<text transform="translate(470.50,481.00) scale(1,1.0)" font-size="10" text-anchor="middle" class="t">65</text>
<text transform="translate(482.50,493.00) scale(1,1.0)" font-size="10" text-anchor="middle" class="t">66</text>
<text transform="translate(494.50,481.00) scale(1,1.0)" font-size="10" text-anchor="middle" class="t">67</text>
<text transform="translate(506.50,493.00) scale(1,1.0)" font-size="10" text-anchor="middle" class="t">68</text>
<text transform="translate(518.50,481.00) scale(1,1.0)" font-size="10" text-anchor="middle" class="t">69</text>
<text transform="translate(530.50,493.00) scale(1,1.0)" font-size="10" text-anchor="middle" class="t">70</text>
<text transform="translate(542.50,481.00) scale(1,1.0)" font-size="10" text-anchor="middle" class="t">71</text>
<text transform="translate(554.50,493.00) scale(1,1.0)" font-size="10" text-anchor="middle" class="t">72</text>
<text transform="translate(565.50,481.00) scale(1,1.0)" font-size="10" text-anchor="middle" class="t">73</text>
<text transform="translate(577.50,493.00) scale(1,1.0)" font-size="10" text-anchor="middle" class="t">74</text>
<text transform="translate(589.50,481.00) scale(1,1.0)" font-size="10" text-anchor="middle" class="t">75</text>
<text transform="translate(601.50,493.00) scale(1,1.0)" font-size="10" text-anchor="middle" class="t">76</text>
<text transform="translate(613.50,481.00) scale(1,1.0)" font-size="10" text-anchor="middle" class="t">77</text>
<text transform="translate(625.50,493.00) scale(1,1.0)" font-size="10" text-anchor="middle" class="t">78</text>
<text transform="translate(637.50,481.00) scale(1,1.0)" font-size="10" text-anchor="middle" class="t">79</text>
<text transform="translate(649.50,493.00) scale(1,1.0)" font-size="10" text-anchor="middle" class="t">80</text>
<text transform="translate(661.50,481.00) scale(1,1.0)" font-size="10" text-anchor="middle" class="t">81</text>
<text transform="translate(673.50,493.00) scale(1,1.0)" font-size="10" text-anchor="middle" class="t">82</text>
<text transform="translate(685.50,481.00) scale(1,1.0)" font-size="10" text-anchor="middle" class="t">83</text>
<text transform="translate(697.50,493.00) scale(1,1.0)" font-size="10" text-anchor="middle" class="t">84</text>
<text transform="translate(709.50,481.00) scale(1,1.0)" font-size="10" text-anchor="middle" class="t">85</text>
<text transform="translate(721.50,493.00) scale(1,1.0)" font-size="10" text-anchor="middle" class="t">86</text>
<text transform="translate(733.50,481.00) scale(1,1.0)" font-size="10" text-anchor="middle" class="t">87</text>
<text transform="translate(745.50,493.00) scale(1,1.0)" font-size="10" text-anchor="middle" class="t">88</text>
<text transform="translate(405.80,516.00) scale(1,1.0)" font-size="8.7" text-anchor="middle" class="t">RPM×0.01</text>
<text transform="translate(798,288.3) rotate(-90)" font-size="8.5" text-anchor="middle" class="t">AFR</text>
<line x1="239.0" y1="539.5" x2="248.2" y2="539.5" stroke="#ff0000" stroke-width="1"/>
<path d="M243.6 537.1L246.1 539.5L243.6 541.9L241.1 539.5Z" fill="#ff0000"/>
<text transform="translate(248.90,544.00) scale(1,1.0)" font-size="10" letter-spacing="0.12">Equiv.</text>
<text transform="translate(248.90,555.00) scale(1,1.0)" font-size="10" letter-spacing="0.12">Ratio (AFR)</text>
<line x1="307.2" y1="539.5" x2="316.4" y2="539.5" stroke="#008000" stroke-width="1"/>
<path d="M311.8 537.1L314.3 539.5L311.8 541.9L309.3 539.5Z" fill="#008000"/>
<text transform="translate(317.30,544.00) scale(1,1.0)" font-size="10" letter-spacing="0.12">Calculated</text>
<text transform="translate(317.30,555.00) scale(1,1.0)" font-size="10" letter-spacing="0.12">Load (%)</text>
<line x1="370.3" y1="539.5" x2="379.5" y2="539.5" stroke="#0000ff" stroke-width="1"/>
<path d="M374.9 537.1L377.4 539.5L374.9 541.9L372.4 539.5Z" fill="#0000ff"/>
<text transform="translate(380.90,544.00) scale(1,1.0)" font-size="10" letter-spacing="0.12">Mass</text>
<text transform="translate(380.90,555.00) scale(1,1.0)" font-size="10" letter-spacing="0.12">Airflow (g/s)</text>
<line x1="441.0" y1="539.5" x2="450.2" y2="539.5" stroke="#ff00ff" stroke-width="1"/>
<path d="M445.6 537.1L448.1 539.5L445.6 541.9L443.1 539.5Z" fill="#ff00ff"/>
<text transform="translate(451.30,544.00) scale(1,1.0)" font-size="10" letter-spacing="0.12">Vehicle</text>
<text transform="translate(451.30,555.00) scale(1,1.0)" font-size="10" letter-spacing="0.12">Speed (kph)</text>
<line x1="511.3" y1="539.5" x2="520.5" y2="539.5" stroke="#808080" stroke-width="1"/>
<path d="M515.9 537.1L518.4 539.5L515.9 541.9L513.4 539.5Z" fill="#808080"/>
<text transform="translate(522.10,544.00) scale(1,1.0)" font-size="10" letter-spacing="0.12">Accel.</text>
<text transform="translate(522.10,555.00) scale(1,1.0)" font-size="10" letter-spacing="0.12">Pedal Pos. (%)</text>
</svg>
</body></html>
